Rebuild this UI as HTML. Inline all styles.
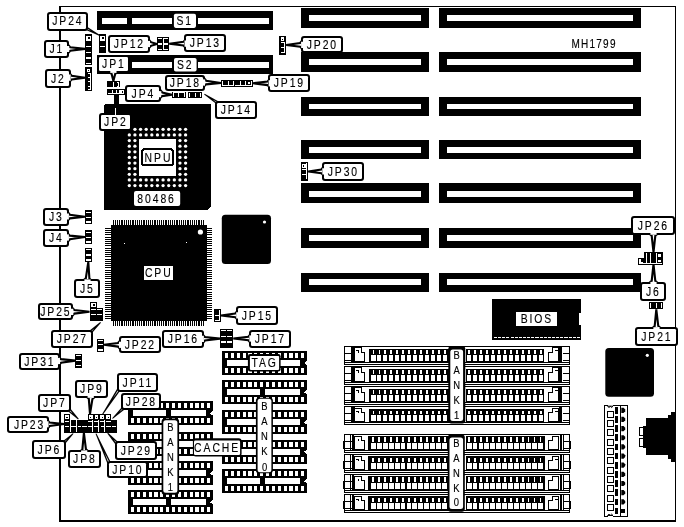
<!DOCTYPE html>
<html><head><meta charset="utf-8"><title>MH1799</title>
<style>
html,body{margin:0;padding:0;background:#fff;}
body{width:684px;height:527px;overflow:hidden;}
svg{display:block;}
svg rect, svg polygon, svg line{shape-rendering:crispEdges;}
svg .aa{shape-rendering:auto;}
svg{filter:grayscale(1);}
svg text{font-family:"Liberation Sans",sans-serif;}
</style></head><body>
<svg width="684" height="527" viewBox="0 0 684 527">
<rect x="0" y="0" width="684" height="527" fill="#fff"/>
<rect x="59.00" y="6.00" width="617.00" height="1.00" fill="#000" />
<rect x="59.00" y="6.00" width="2.00" height="515.50" fill="#000" />
<rect x="675.00" y="6.00" width="1.00" height="515.50" fill="#000" />
<rect x="59.00" y="519.70" width="617.00" height="1.80" fill="#000" />
<rect x="301.00" y="8.00" width="128.00" height="19.80" fill="#000" />
<rect x="308.80" y="15.00" width="112.20" height="6.00" fill="#fff" />
<rect x="439.20" y="8.00" width="201.80" height="19.80" fill="#000" />
<rect x="447.00" y="15.00" width="186.00" height="6.00" fill="#fff" />
<rect x="301.00" y="52.00" width="128.00" height="19.80" fill="#000" />
<rect x="308.80" y="59.00" width="112.20" height="6.00" fill="#fff" />
<rect x="439.20" y="52.00" width="201.80" height="19.80" fill="#000" />
<rect x="447.00" y="59.00" width="186.00" height="6.00" fill="#fff" />
<rect x="301.00" y="96.80" width="128.00" height="18.90" fill="#000" />
<rect x="308.80" y="104.00" width="112.20" height="5.40" fill="#fff" />
<rect x="439.20" y="96.80" width="201.80" height="18.90" fill="#000" />
<rect x="447.00" y="104.00" width="186.00" height="5.40" fill="#fff" />
<rect x="301.00" y="139.60" width="128.00" height="19.80" fill="#000" />
<rect x="308.80" y="146.80" width="112.20" height="6.20" fill="#fff" />
<rect x="439.20" y="139.60" width="201.80" height="19.80" fill="#000" />
<rect x="447.00" y="146.80" width="186.00" height="6.20" fill="#fff" />
<rect x="301.00" y="183.40" width="128.00" height="19.60" fill="#000" />
<rect x="308.80" y="190.60" width="112.20" height="6.00" fill="#fff" />
<rect x="439.20" y="183.40" width="201.80" height="19.60" fill="#000" />
<rect x="447.00" y="190.60" width="186.00" height="6.00" fill="#fff" />
<rect x="301.00" y="227.70" width="128.00" height="19.80" fill="#000" />
<rect x="308.80" y="234.50" width="112.20" height="6.50" fill="#fff" />
<rect x="439.20" y="227.70" width="201.80" height="19.80" fill="#000" />
<rect x="447.00" y="234.50" width="186.00" height="6.50" fill="#fff" />
<rect x="301.00" y="272.80" width="128.00" height="19.00" fill="#000" />
<rect x="308.80" y="279.00" width="112.20" height="6.00" fill="#fff" />
<rect x="439.20" y="272.80" width="201.80" height="19.00" fill="#000" />
<rect x="447.00" y="279.00" width="186.00" height="6.00" fill="#fff" />
<rect x="97.20" y="10.80" width="175.60" height="19.10" fill="#000" />
<rect x="101.80" y="17.90" width="25.20" height="6.00" fill="#fff" />
<rect x="132.00" y="17.90" width="136.50" height="6.00" fill="#fff" />
<rect x="172.10" y="16.90" width="25.60" height="8.00" fill="#000" />
<rect x="97.20" y="55.30" width="175.60" height="18.30" fill="#000" />
<rect x="101.80" y="62.00" width="25.20" height="6.20" fill="#fff" />
<rect x="132.00" y="62.00" width="136.50" height="6.20" fill="#fff" />
<rect x="172.10" y="61.00" width="25.60" height="8.20" fill="#000" />
<polygon points="104.00,106.00 106.30,103.70 211.00,103.70 211.00,206.30 207.70,209.60 104.00,209.60" fill="#000" stroke="none" stroke-width="0" stroke-linejoin="miter" />
<circle cx="134.93" cy="129.30" r="1.65" fill="#fff"/>
<circle cx="140.56" cy="129.30" r="1.65" fill="#fff"/>
<circle cx="146.19" cy="129.30" r="1.65" fill="#fff"/>
<circle cx="151.82" cy="129.30" r="1.65" fill="#fff"/>
<circle cx="157.45" cy="129.30" r="1.65" fill="#fff"/>
<circle cx="163.08" cy="129.30" r="1.65" fill="#fff"/>
<circle cx="168.71" cy="129.30" r="1.65" fill="#fff"/>
<circle cx="174.34" cy="129.30" r="1.65" fill="#fff"/>
<circle cx="179.97" cy="129.30" r="1.65" fill="#fff"/>
<circle cx="185.60" cy="129.30" r="1.65" fill="#fff"/>
<circle cx="129.30" cy="134.93" r="1.65" fill="#fff"/>
<circle cx="134.93" cy="134.93" r="1.65" fill="#fff"/>
<circle cx="140.56" cy="134.93" r="1.65" fill="#fff"/>
<circle cx="146.19" cy="134.93" r="1.65" fill="#fff"/>
<circle cx="151.82" cy="134.93" r="1.65" fill="#fff"/>
<circle cx="157.45" cy="134.93" r="1.65" fill="#fff"/>
<circle cx="163.08" cy="134.93" r="1.65" fill="#fff"/>
<circle cx="168.71" cy="134.93" r="1.65" fill="#fff"/>
<circle cx="174.34" cy="134.93" r="1.65" fill="#fff"/>
<circle cx="179.97" cy="134.93" r="1.65" fill="#fff"/>
<circle cx="185.60" cy="134.93" r="1.65" fill="#fff"/>
<circle cx="129.30" cy="140.56" r="1.65" fill="#fff"/>
<circle cx="134.93" cy="140.56" r="1.65" fill="#fff"/>
<circle cx="179.97" cy="140.56" r="1.65" fill="#fff"/>
<circle cx="185.60" cy="140.56" r="1.65" fill="#fff"/>
<circle cx="129.30" cy="146.19" r="1.65" fill="#fff"/>
<circle cx="134.93" cy="146.19" r="1.65" fill="#fff"/>
<circle cx="179.97" cy="146.19" r="1.65" fill="#fff"/>
<circle cx="185.60" cy="146.19" r="1.65" fill="#fff"/>
<circle cx="129.30" cy="151.82" r="1.65" fill="#fff"/>
<circle cx="134.93" cy="151.82" r="1.65" fill="#fff"/>
<circle cx="179.97" cy="151.82" r="1.65" fill="#fff"/>
<circle cx="185.60" cy="151.82" r="1.65" fill="#fff"/>
<circle cx="129.30" cy="157.45" r="1.65" fill="#fff"/>
<circle cx="134.93" cy="157.45" r="1.65" fill="#fff"/>
<circle cx="179.97" cy="157.45" r="1.65" fill="#fff"/>
<circle cx="185.60" cy="157.45" r="1.65" fill="#fff"/>
<circle cx="129.30" cy="163.08" r="1.65" fill="#fff"/>
<circle cx="134.93" cy="163.08" r="1.65" fill="#fff"/>
<circle cx="179.97" cy="163.08" r="1.65" fill="#fff"/>
<circle cx="185.60" cy="163.08" r="1.65" fill="#fff"/>
<circle cx="129.30" cy="168.71" r="1.65" fill="#fff"/>
<circle cx="134.93" cy="168.71" r="1.65" fill="#fff"/>
<circle cx="179.97" cy="168.71" r="1.65" fill="#fff"/>
<circle cx="185.60" cy="168.71" r="1.65" fill="#fff"/>
<circle cx="129.30" cy="174.34" r="1.65" fill="#fff"/>
<circle cx="134.93" cy="174.34" r="1.65" fill="#fff"/>
<circle cx="179.97" cy="174.34" r="1.65" fill="#fff"/>
<circle cx="185.60" cy="174.34" r="1.65" fill="#fff"/>
<circle cx="129.30" cy="179.97" r="1.65" fill="#fff"/>
<circle cx="134.93" cy="179.97" r="1.65" fill="#fff"/>
<circle cx="140.56" cy="179.97" r="1.65" fill="#fff"/>
<circle cx="146.19" cy="179.97" r="1.65" fill="#fff"/>
<circle cx="151.82" cy="179.97" r="1.65" fill="#fff"/>
<circle cx="157.45" cy="179.97" r="1.65" fill="#fff"/>
<circle cx="163.08" cy="179.97" r="1.65" fill="#fff"/>
<circle cx="168.71" cy="179.97" r="1.65" fill="#fff"/>
<circle cx="174.34" cy="179.97" r="1.65" fill="#fff"/>
<circle cx="179.97" cy="179.97" r="1.65" fill="#fff"/>
<circle cx="185.60" cy="179.97" r="1.65" fill="#fff"/>
<circle cx="129.30" cy="185.60" r="1.65" fill="#fff"/>
<circle cx="134.93" cy="185.60" r="1.65" fill="#fff"/>
<circle cx="140.56" cy="185.60" r="1.65" fill="#fff"/>
<circle cx="146.19" cy="185.60" r="1.65" fill="#fff"/>
<circle cx="151.82" cy="185.60" r="1.65" fill="#fff"/>
<circle cx="157.45" cy="185.60" r="1.65" fill="#fff"/>
<circle cx="163.08" cy="185.60" r="1.65" fill="#fff"/>
<circle cx="168.71" cy="185.60" r="1.65" fill="#fff"/>
<circle cx="174.34" cy="185.60" r="1.65" fill="#fff"/>
<circle cx="179.97" cy="185.60" r="1.65" fill="#fff"/>
<circle cx="185.60" cy="185.60" r="1.65" fill="#fff"/>
<rect x="139.00" y="139.00" width="37.00" height="37.00" fill="#fff" />
<rect x="141" y="148" width="33" height="18.4" rx="4" fill="#000"/>
<rect x="143" y="150" width="29" height="14.4" rx="2.5" fill="#fff"/>
<text transform="translate(158.46,161.90) scale(0.77,1)" font-size="13.5" letter-spacing="2.5" text-anchor="middle" fill="#000" stroke="#000" stroke-width="0.15">NPU</text>
<rect x="134" y="191" width="46.2" height="15" rx="2" fill="#fff" class="aa"/>
<text transform="translate(156.56,202.90) scale(0.77,1)" font-size="13.5" letter-spacing="2.5" text-anchor="middle" fill="#000" stroke="#000" stroke-width="0.15">80486</text>
<rect x="112.60" y="220.10" width="1.10" height="105.70" fill="#000" />
<rect x="114.80" y="220.10" width="1.10" height="105.70" fill="#000" />
<rect x="117.00" y="220.10" width="1.10" height="105.70" fill="#000" />
<rect x="119.20" y="220.10" width="1.10" height="105.70" fill="#000" />
<rect x="121.40" y="220.10" width="1.10" height="105.70" fill="#000" />
<rect x="123.60" y="220.10" width="1.10" height="105.70" fill="#000" />
<rect x="125.80" y="220.10" width="1.10" height="105.70" fill="#000" />
<rect x="128.00" y="220.10" width="1.10" height="105.70" fill="#000" />
<rect x="130.20" y="220.10" width="1.10" height="105.70" fill="#000" />
<rect x="132.40" y="220.10" width="1.10" height="105.70" fill="#000" />
<rect x="134.60" y="220.10" width="1.10" height="105.70" fill="#000" />
<rect x="136.80" y="220.10" width="1.10" height="105.70" fill="#000" />
<rect x="139.00" y="220.10" width="1.10" height="105.70" fill="#000" />
<rect x="141.20" y="220.10" width="1.10" height="105.70" fill="#000" />
<rect x="143.40" y="220.10" width="1.10" height="105.70" fill="#000" />
<rect x="145.60" y="220.10" width="1.10" height="105.70" fill="#000" />
<rect x="147.80" y="220.10" width="1.10" height="105.70" fill="#000" />
<rect x="150.00" y="220.10" width="1.10" height="105.70" fill="#000" />
<rect x="152.20" y="220.10" width="1.10" height="105.70" fill="#000" />
<rect x="154.40" y="220.10" width="1.10" height="105.70" fill="#000" />
<rect x="156.60" y="220.10" width="1.10" height="105.70" fill="#000" />
<rect x="158.80" y="220.10" width="1.10" height="105.70" fill="#000" />
<rect x="161.00" y="220.10" width="1.10" height="105.70" fill="#000" />
<rect x="163.20" y="220.10" width="1.10" height="105.70" fill="#000" />
<rect x="165.40" y="220.10" width="1.10" height="105.70" fill="#000" />
<rect x="167.60" y="220.10" width="1.10" height="105.70" fill="#000" />
<rect x="169.80" y="220.10" width="1.10" height="105.70" fill="#000" />
<rect x="172.00" y="220.10" width="1.10" height="105.70" fill="#000" />
<rect x="174.20" y="220.10" width="1.10" height="105.70" fill="#000" />
<rect x="176.40" y="220.10" width="1.10" height="105.70" fill="#000" />
<rect x="178.60" y="220.10" width="1.10" height="105.70" fill="#000" />
<rect x="180.80" y="220.10" width="1.10" height="105.70" fill="#000" />
<rect x="183.00" y="220.10" width="1.10" height="105.70" fill="#000" />
<rect x="185.20" y="220.10" width="1.10" height="105.70" fill="#000" />
<rect x="187.40" y="220.10" width="1.10" height="105.70" fill="#000" />
<rect x="189.60" y="220.10" width="1.10" height="105.70" fill="#000" />
<rect x="191.80" y="220.10" width="1.10" height="105.70" fill="#000" />
<rect x="194.00" y="220.10" width="1.10" height="105.70" fill="#000" />
<rect x="196.20" y="220.10" width="1.10" height="105.70" fill="#000" />
<rect x="198.40" y="220.10" width="1.10" height="105.70" fill="#000" />
<rect x="200.60" y="220.10" width="1.10" height="105.70" fill="#000" />
<rect x="202.80" y="220.10" width="1.10" height="105.70" fill="#000" />
<rect x="104.90" y="227.70" width="107.00" height="1.10" fill="#000" />
<rect x="104.90" y="229.90" width="107.00" height="1.10" fill="#000" />
<rect x="104.90" y="232.10" width="107.00" height="1.10" fill="#000" />
<rect x="104.90" y="234.30" width="107.00" height="1.10" fill="#000" />
<rect x="104.90" y="236.50" width="107.00" height="1.10" fill="#000" />
<rect x="104.90" y="238.70" width="107.00" height="1.10" fill="#000" />
<rect x="104.90" y="240.90" width="107.00" height="1.10" fill="#000" />
<rect x="104.90" y="243.10" width="107.00" height="1.10" fill="#000" />
<rect x="104.90" y="245.30" width="107.00" height="1.10" fill="#000" />
<rect x="104.90" y="247.50" width="107.00" height="1.10" fill="#000" />
<rect x="104.90" y="249.70" width="107.00" height="1.10" fill="#000" />
<rect x="104.90" y="251.90" width="107.00" height="1.10" fill="#000" />
<rect x="104.90" y="254.10" width="107.00" height="1.10" fill="#000" />
<rect x="104.90" y="256.30" width="107.00" height="1.10" fill="#000" />
<rect x="104.90" y="258.50" width="107.00" height="1.10" fill="#000" />
<rect x="104.90" y="260.70" width="107.00" height="1.10" fill="#000" />
<rect x="104.90" y="262.90" width="107.00" height="1.10" fill="#000" />
<rect x="104.90" y="265.10" width="107.00" height="1.10" fill="#000" />
<rect x="104.90" y="267.30" width="107.00" height="1.10" fill="#000" />
<rect x="104.90" y="269.50" width="107.00" height="1.10" fill="#000" />
<rect x="104.90" y="271.70" width="107.00" height="1.10" fill="#000" />
<rect x="104.90" y="273.90" width="107.00" height="1.10" fill="#000" />
<rect x="104.90" y="276.10" width="107.00" height="1.10" fill="#000" />
<rect x="104.90" y="278.30" width="107.00" height="1.10" fill="#000" />
<rect x="104.90" y="280.50" width="107.00" height="1.10" fill="#000" />
<rect x="104.90" y="282.70" width="107.00" height="1.10" fill="#000" />
<rect x="104.90" y="284.90" width="107.00" height="1.10" fill="#000" />
<rect x="104.90" y="287.10" width="107.00" height="1.10" fill="#000" />
<rect x="104.90" y="289.30" width="107.00" height="1.10" fill="#000" />
<rect x="104.90" y="291.50" width="107.00" height="1.10" fill="#000" />
<rect x="104.90" y="293.70" width="107.00" height="1.10" fill="#000" />
<rect x="104.90" y="295.90" width="107.00" height="1.10" fill="#000" />
<rect x="104.90" y="298.10" width="107.00" height="1.10" fill="#000" />
<rect x="104.90" y="300.30" width="107.00" height="1.10" fill="#000" />
<rect x="104.90" y="302.50" width="107.00" height="1.10" fill="#000" />
<rect x="104.90" y="304.70" width="107.00" height="1.10" fill="#000" />
<rect x="104.90" y="306.90" width="107.00" height="1.10" fill="#000" />
<rect x="104.90" y="309.10" width="107.00" height="1.10" fill="#000" />
<rect x="104.90" y="311.30" width="107.00" height="1.10" fill="#000" />
<rect x="104.90" y="313.50" width="107.00" height="1.10" fill="#000" />
<rect x="104.90" y="315.70" width="107.00" height="1.10" fill="#000" />
<rect x="104.90" y="317.90" width="107.00" height="1.10" fill="#000" />
<rect x="110.90" y="224.90" width="96.10" height="96.10" fill="#000" />
<circle cx="200.4" cy="232" r="2.6" fill="#fff"/>
<rect x="123.50" y="242.50" width="1.00" height="1.00" fill="#fff" />
<rect x="185.50" y="242.00" width="1.20" height="1.00" fill="#fff" />
<rect x="143.90" y="266.00" width="29.10" height="13.90" fill="#fff" />
<text transform="translate(158.76,276.70) scale(0.77,1)" font-size="13.5" letter-spacing="2.5" text-anchor="middle" fill="#000" stroke="#000" stroke-width="0.15">CPU</text>
<rect x="221.8" y="214.8" width="49.2" height="49.2" rx="3.5" fill="#000" class="aa"/>
<circle cx="264.5" cy="222" r="1.6" fill="#fff"/>
<rect x="605.3" y="347.9" width="48.7" height="48.8" rx="3.5" fill="#000" class="aa"/>
<circle cx="647.3" cy="355.3" r="1.6" fill="#fff"/>
<rect x="491.90" y="298.90" width="89.10" height="41.00" fill="#000" />
<rect x="579.00" y="313.20" width="2.00" height="11.40" fill="#fff" />
<rect x="493.90" y="336.90" width="3.10" height="1.10" fill="#fff" />
<rect x="498.05" y="336.90" width="3.10" height="1.10" fill="#fff" />
<rect x="502.20" y="336.90" width="3.10" height="1.10" fill="#fff" />
<rect x="506.35" y="336.90" width="3.10" height="1.10" fill="#fff" />
<rect x="510.50" y="336.90" width="3.10" height="1.10" fill="#fff" />
<rect x="514.65" y="336.90" width="3.10" height="1.10" fill="#fff" />
<rect x="518.80" y="336.90" width="3.10" height="1.10" fill="#fff" />
<rect x="522.95" y="336.90" width="3.10" height="1.10" fill="#fff" />
<rect x="527.10" y="336.90" width="3.10" height="1.10" fill="#fff" />
<rect x="531.25" y="336.90" width="3.10" height="1.10" fill="#fff" />
<rect x="535.40" y="336.90" width="3.10" height="1.10" fill="#fff" />
<rect x="539.55" y="336.90" width="3.10" height="1.10" fill="#fff" />
<rect x="543.70" y="336.90" width="3.10" height="1.10" fill="#fff" />
<rect x="547.85" y="336.90" width="3.10" height="1.10" fill="#fff" />
<rect x="552.00" y="336.90" width="3.10" height="1.10" fill="#fff" />
<rect x="556.15" y="336.90" width="3.10" height="1.10" fill="#fff" />
<rect x="560.30" y="336.90" width="3.10" height="1.10" fill="#fff" />
<rect x="564.45" y="336.90" width="3.10" height="1.10" fill="#fff" />
<rect x="568.60" y="336.90" width="3.10" height="1.10" fill="#fff" />
<rect x="572.75" y="336.90" width="3.10" height="1.10" fill="#fff" />
<rect x="576.90" y="336.90" width="3.10" height="1.10" fill="#fff" />
<rect x="515.90" y="311.80" width="41.20" height="14.10" fill="#fff" />
<text transform="translate(536.96,323.40) scale(0.77,1)" font-size="13.5" letter-spacing="2.5" text-anchor="middle" fill="#000" stroke="#000" stroke-width="0.15">BIOS</text>
<rect x="222.00" y="351.00" width="85.00" height="23.70" fill="#000" />
<rect x="225.00" y="353.00" width="3.20" height="5.00" fill="#fff" />
<rect x="225.00" y="368.00" width="3.20" height="5.00" fill="#fff" />
<rect x="230.85" y="353.00" width="3.20" height="5.00" fill="#fff" />
<rect x="230.85" y="368.00" width="3.20" height="5.00" fill="#fff" />
<rect x="236.70" y="353.00" width="3.20" height="5.00" fill="#fff" />
<rect x="236.70" y="368.00" width="3.20" height="5.00" fill="#fff" />
<rect x="242.55" y="353.00" width="3.20" height="5.00" fill="#fff" />
<rect x="242.55" y="368.00" width="3.20" height="5.00" fill="#fff" />
<rect x="248.40" y="353.00" width="3.20" height="5.00" fill="#fff" />
<rect x="248.40" y="368.00" width="3.20" height="5.00" fill="#fff" />
<rect x="254.25" y="353.00" width="3.20" height="5.00" fill="#fff" />
<rect x="254.25" y="368.00" width="3.20" height="5.00" fill="#fff" />
<rect x="260.10" y="353.00" width="3.20" height="5.00" fill="#fff" />
<rect x="260.10" y="368.00" width="3.20" height="5.00" fill="#fff" />
<rect x="265.95" y="353.00" width="3.20" height="5.00" fill="#fff" />
<rect x="265.95" y="368.00" width="3.20" height="5.00" fill="#fff" />
<rect x="271.80" y="353.00" width="3.20" height="5.00" fill="#fff" />
<rect x="271.80" y="368.00" width="3.20" height="5.00" fill="#fff" />
<rect x="277.65" y="353.00" width="3.20" height="5.00" fill="#fff" />
<rect x="277.65" y="368.00" width="3.20" height="5.00" fill="#fff" />
<rect x="283.50" y="353.00" width="3.20" height="5.00" fill="#fff" />
<rect x="283.50" y="368.00" width="3.20" height="5.00" fill="#fff" />
<rect x="289.35" y="353.00" width="3.20" height="5.00" fill="#fff" />
<rect x="289.35" y="368.00" width="3.20" height="5.00" fill="#fff" />
<rect x="295.20" y="353.00" width="3.20" height="5.00" fill="#fff" />
<rect x="295.20" y="368.00" width="3.20" height="5.00" fill="#fff" />
<rect x="301.05" y="353.00" width="3.20" height="5.00" fill="#fff" />
<rect x="301.05" y="368.00" width="3.20" height="5.00" fill="#fff" />
<rect x="226.70" y="360.00" width="33.60" height="6.00" fill="#fff" />
<rect x="264.70" y="360.00" width="34.80" height="6.00" fill="#fff" />
<polygon points="307.00,360.50 304.00,363.00 307.00,365.50" fill="#fff" stroke="none" stroke-width="0" stroke-linejoin="miter" />
<rect x="222.00" y="380.20" width="85.00" height="23.70" fill="#000" />
<rect x="225.00" y="382.20" width="3.20" height="5.00" fill="#fff" />
<rect x="225.00" y="397.20" width="3.20" height="5.00" fill="#fff" />
<rect x="230.85" y="382.20" width="3.20" height="5.00" fill="#fff" />
<rect x="230.85" y="397.20" width="3.20" height="5.00" fill="#fff" />
<rect x="236.70" y="382.20" width="3.20" height="5.00" fill="#fff" />
<rect x="236.70" y="397.20" width="3.20" height="5.00" fill="#fff" />
<rect x="242.55" y="382.20" width="3.20" height="5.00" fill="#fff" />
<rect x="242.55" y="397.20" width="3.20" height="5.00" fill="#fff" />
<rect x="248.40" y="382.20" width="3.20" height="5.00" fill="#fff" />
<rect x="248.40" y="397.20" width="3.20" height="5.00" fill="#fff" />
<rect x="254.25" y="382.20" width="3.20" height="5.00" fill="#fff" />
<rect x="254.25" y="397.20" width="3.20" height="5.00" fill="#fff" />
<rect x="260.10" y="382.20" width="3.20" height="5.00" fill="#fff" />
<rect x="260.10" y="397.20" width="3.20" height="5.00" fill="#fff" />
<rect x="265.95" y="382.20" width="3.20" height="5.00" fill="#fff" />
<rect x="265.95" y="397.20" width="3.20" height="5.00" fill="#fff" />
<rect x="271.80" y="382.20" width="3.20" height="5.00" fill="#fff" />
<rect x="271.80" y="397.20" width="3.20" height="5.00" fill="#fff" />
<rect x="277.65" y="382.20" width="3.20" height="5.00" fill="#fff" />
<rect x="277.65" y="397.20" width="3.20" height="5.00" fill="#fff" />
<rect x="283.50" y="382.20" width="3.20" height="5.00" fill="#fff" />
<rect x="283.50" y="397.20" width="3.20" height="5.00" fill="#fff" />
<rect x="289.35" y="382.20" width="3.20" height="5.00" fill="#fff" />
<rect x="289.35" y="397.20" width="3.20" height="5.00" fill="#fff" />
<rect x="295.20" y="382.20" width="3.20" height="5.00" fill="#fff" />
<rect x="295.20" y="397.20" width="3.20" height="5.00" fill="#fff" />
<rect x="301.05" y="382.20" width="3.20" height="5.00" fill="#fff" />
<rect x="301.05" y="397.20" width="3.20" height="5.00" fill="#fff" />
<rect x="226.70" y="389.20" width="33.60" height="6.00" fill="#fff" />
<rect x="264.70" y="389.20" width="34.80" height="6.00" fill="#fff" />
<polygon points="307.00,389.70 304.00,392.20 307.00,394.70" fill="#fff" stroke="none" stroke-width="0" stroke-linejoin="miter" />
<rect x="222.00" y="410.30" width="85.00" height="23.70" fill="#000" />
<rect x="225.00" y="412.30" width="3.20" height="5.00" fill="#fff" />
<rect x="225.00" y="427.30" width="3.20" height="5.00" fill="#fff" />
<rect x="230.85" y="412.30" width="3.20" height="5.00" fill="#fff" />
<rect x="230.85" y="427.30" width="3.20" height="5.00" fill="#fff" />
<rect x="236.70" y="412.30" width="3.20" height="5.00" fill="#fff" />
<rect x="236.70" y="427.30" width="3.20" height="5.00" fill="#fff" />
<rect x="242.55" y="412.30" width="3.20" height="5.00" fill="#fff" />
<rect x="242.55" y="427.30" width="3.20" height="5.00" fill="#fff" />
<rect x="248.40" y="412.30" width="3.20" height="5.00" fill="#fff" />
<rect x="248.40" y="427.30" width="3.20" height="5.00" fill="#fff" />
<rect x="254.25" y="412.30" width="3.20" height="5.00" fill="#fff" />
<rect x="254.25" y="427.30" width="3.20" height="5.00" fill="#fff" />
<rect x="260.10" y="412.30" width="3.20" height="5.00" fill="#fff" />
<rect x="260.10" y="427.30" width="3.20" height="5.00" fill="#fff" />
<rect x="265.95" y="412.30" width="3.20" height="5.00" fill="#fff" />
<rect x="265.95" y="427.30" width="3.20" height="5.00" fill="#fff" />
<rect x="271.80" y="412.30" width="3.20" height="5.00" fill="#fff" />
<rect x="271.80" y="427.30" width="3.20" height="5.00" fill="#fff" />
<rect x="277.65" y="412.30" width="3.20" height="5.00" fill="#fff" />
<rect x="277.65" y="427.30" width="3.20" height="5.00" fill="#fff" />
<rect x="283.50" y="412.30" width="3.20" height="5.00" fill="#fff" />
<rect x="283.50" y="427.30" width="3.20" height="5.00" fill="#fff" />
<rect x="289.35" y="412.30" width="3.20" height="5.00" fill="#fff" />
<rect x="289.35" y="427.30" width="3.20" height="5.00" fill="#fff" />
<rect x="295.20" y="412.30" width="3.20" height="5.00" fill="#fff" />
<rect x="295.20" y="427.30" width="3.20" height="5.00" fill="#fff" />
<rect x="301.05" y="412.30" width="3.20" height="5.00" fill="#fff" />
<rect x="301.05" y="427.30" width="3.20" height="5.00" fill="#fff" />
<rect x="226.70" y="419.30" width="33.60" height="6.00" fill="#fff" />
<rect x="264.70" y="419.30" width="34.80" height="6.00" fill="#fff" />
<polygon points="307.00,419.80 304.00,422.30 307.00,424.80" fill="#fff" stroke="none" stroke-width="0" stroke-linejoin="miter" />
<rect x="222.00" y="439.80" width="85.00" height="23.70" fill="#000" />
<rect x="225.00" y="441.80" width="3.20" height="5.00" fill="#fff" />
<rect x="225.00" y="456.80" width="3.20" height="5.00" fill="#fff" />
<rect x="230.85" y="441.80" width="3.20" height="5.00" fill="#fff" />
<rect x="230.85" y="456.80" width="3.20" height="5.00" fill="#fff" />
<rect x="236.70" y="441.80" width="3.20" height="5.00" fill="#fff" />
<rect x="236.70" y="456.80" width="3.20" height="5.00" fill="#fff" />
<rect x="242.55" y="441.80" width="3.20" height="5.00" fill="#fff" />
<rect x="242.55" y="456.80" width="3.20" height="5.00" fill="#fff" />
<rect x="248.40" y="441.80" width="3.20" height="5.00" fill="#fff" />
<rect x="248.40" y="456.80" width="3.20" height="5.00" fill="#fff" />
<rect x="254.25" y="441.80" width="3.20" height="5.00" fill="#fff" />
<rect x="254.25" y="456.80" width="3.20" height="5.00" fill="#fff" />
<rect x="260.10" y="441.80" width="3.20" height="5.00" fill="#fff" />
<rect x="260.10" y="456.80" width="3.20" height="5.00" fill="#fff" />
<rect x="265.95" y="441.80" width="3.20" height="5.00" fill="#fff" />
<rect x="265.95" y="456.80" width="3.20" height="5.00" fill="#fff" />
<rect x="271.80" y="441.80" width="3.20" height="5.00" fill="#fff" />
<rect x="271.80" y="456.80" width="3.20" height="5.00" fill="#fff" />
<rect x="277.65" y="441.80" width="3.20" height="5.00" fill="#fff" />
<rect x="277.65" y="456.80" width="3.20" height="5.00" fill="#fff" />
<rect x="283.50" y="441.80" width="3.20" height="5.00" fill="#fff" />
<rect x="283.50" y="456.80" width="3.20" height="5.00" fill="#fff" />
<rect x="289.35" y="441.80" width="3.20" height="5.00" fill="#fff" />
<rect x="289.35" y="456.80" width="3.20" height="5.00" fill="#fff" />
<rect x="295.20" y="441.80" width="3.20" height="5.00" fill="#fff" />
<rect x="295.20" y="456.80" width="3.20" height="5.00" fill="#fff" />
<rect x="301.05" y="441.80" width="3.20" height="5.00" fill="#fff" />
<rect x="301.05" y="456.80" width="3.20" height="5.00" fill="#fff" />
<rect x="226.70" y="448.80" width="33.60" height="6.00" fill="#fff" />
<rect x="264.70" y="448.80" width="34.80" height="6.00" fill="#fff" />
<polygon points="307.00,449.30 304.00,451.80 307.00,454.30" fill="#fff" stroke="none" stroke-width="0" stroke-linejoin="miter" />
<rect x="222.00" y="469.10" width="85.00" height="23.70" fill="#000" />
<rect x="225.00" y="471.10" width="3.20" height="5.00" fill="#fff" />
<rect x="225.00" y="486.10" width="3.20" height="5.00" fill="#fff" />
<rect x="230.85" y="471.10" width="3.20" height="5.00" fill="#fff" />
<rect x="230.85" y="486.10" width="3.20" height="5.00" fill="#fff" />
<rect x="236.70" y="471.10" width="3.20" height="5.00" fill="#fff" />
<rect x="236.70" y="486.10" width="3.20" height="5.00" fill="#fff" />
<rect x="242.55" y="471.10" width="3.20" height="5.00" fill="#fff" />
<rect x="242.55" y="486.10" width="3.20" height="5.00" fill="#fff" />
<rect x="248.40" y="471.10" width="3.20" height="5.00" fill="#fff" />
<rect x="248.40" y="486.10" width="3.20" height="5.00" fill="#fff" />
<rect x="254.25" y="471.10" width="3.20" height="5.00" fill="#fff" />
<rect x="254.25" y="486.10" width="3.20" height="5.00" fill="#fff" />
<rect x="260.10" y="471.10" width="3.20" height="5.00" fill="#fff" />
<rect x="260.10" y="486.10" width="3.20" height="5.00" fill="#fff" />
<rect x="265.95" y="471.10" width="3.20" height="5.00" fill="#fff" />
<rect x="265.95" y="486.10" width="3.20" height="5.00" fill="#fff" />
<rect x="271.80" y="471.10" width="3.20" height="5.00" fill="#fff" />
<rect x="271.80" y="486.10" width="3.20" height="5.00" fill="#fff" />
<rect x="277.65" y="471.10" width="3.20" height="5.00" fill="#fff" />
<rect x="277.65" y="486.10" width="3.20" height="5.00" fill="#fff" />
<rect x="283.50" y="471.10" width="3.20" height="5.00" fill="#fff" />
<rect x="283.50" y="486.10" width="3.20" height="5.00" fill="#fff" />
<rect x="289.35" y="471.10" width="3.20" height="5.00" fill="#fff" />
<rect x="289.35" y="486.10" width="3.20" height="5.00" fill="#fff" />
<rect x="295.20" y="471.10" width="3.20" height="5.00" fill="#fff" />
<rect x="295.20" y="486.10" width="3.20" height="5.00" fill="#fff" />
<rect x="301.05" y="471.10" width="3.20" height="5.00" fill="#fff" />
<rect x="301.05" y="486.10" width="3.20" height="5.00" fill="#fff" />
<rect x="226.70" y="478.10" width="33.60" height="6.00" fill="#fff" />
<rect x="264.70" y="478.10" width="34.80" height="6.00" fill="#fff" />
<polygon points="307.00,478.60 304.00,481.10 307.00,483.60" fill="#fff" stroke="none" stroke-width="0" stroke-linejoin="miter" />
<rect x="128.00" y="401.40" width="85.00" height="23.70" fill="#000" />
<rect x="131.00" y="403.40" width="3.20" height="5.00" fill="#fff" />
<rect x="131.00" y="418.40" width="3.20" height="5.00" fill="#fff" />
<rect x="136.85" y="403.40" width="3.20" height="5.00" fill="#fff" />
<rect x="136.85" y="418.40" width="3.20" height="5.00" fill="#fff" />
<rect x="142.70" y="403.40" width="3.20" height="5.00" fill="#fff" />
<rect x="142.70" y="418.40" width="3.20" height="5.00" fill="#fff" />
<rect x="148.55" y="403.40" width="3.20" height="5.00" fill="#fff" />
<rect x="148.55" y="418.40" width="3.20" height="5.00" fill="#fff" />
<rect x="154.40" y="403.40" width="3.20" height="5.00" fill="#fff" />
<rect x="154.40" y="418.40" width="3.20" height="5.00" fill="#fff" />
<rect x="160.25" y="403.40" width="3.20" height="5.00" fill="#fff" />
<rect x="160.25" y="418.40" width="3.20" height="5.00" fill="#fff" />
<rect x="166.10" y="403.40" width="3.20" height="5.00" fill="#fff" />
<rect x="166.10" y="418.40" width="3.20" height="5.00" fill="#fff" />
<rect x="171.95" y="403.40" width="3.20" height="5.00" fill="#fff" />
<rect x="171.95" y="418.40" width="3.20" height="5.00" fill="#fff" />
<rect x="177.80" y="403.40" width="3.20" height="5.00" fill="#fff" />
<rect x="177.80" y="418.40" width="3.20" height="5.00" fill="#fff" />
<rect x="183.65" y="403.40" width="3.20" height="5.00" fill="#fff" />
<rect x="183.65" y="418.40" width="3.20" height="5.00" fill="#fff" />
<rect x="189.50" y="403.40" width="3.20" height="5.00" fill="#fff" />
<rect x="189.50" y="418.40" width="3.20" height="5.00" fill="#fff" />
<rect x="195.35" y="403.40" width="3.20" height="5.00" fill="#fff" />
<rect x="195.35" y="418.40" width="3.20" height="5.00" fill="#fff" />
<rect x="201.20" y="403.40" width="3.20" height="5.00" fill="#fff" />
<rect x="201.20" y="418.40" width="3.20" height="5.00" fill="#fff" />
<rect x="207.05" y="403.40" width="3.20" height="5.00" fill="#fff" />
<rect x="207.05" y="418.40" width="3.20" height="5.00" fill="#fff" />
<rect x="132.70" y="410.40" width="33.60" height="6.00" fill="#fff" />
<rect x="170.70" y="410.40" width="34.80" height="6.00" fill="#fff" />
<polygon points="213.00,410.90 210.00,413.40 213.00,415.90" fill="#fff" stroke="none" stroke-width="0" stroke-linejoin="miter" />
<rect x="128.00" y="431.80" width="85.00" height="23.70" fill="#000" />
<rect x="131.00" y="433.80" width="3.20" height="5.00" fill="#fff" />
<rect x="131.00" y="448.80" width="3.20" height="5.00" fill="#fff" />
<rect x="136.85" y="433.80" width="3.20" height="5.00" fill="#fff" />
<rect x="136.85" y="448.80" width="3.20" height="5.00" fill="#fff" />
<rect x="142.70" y="433.80" width="3.20" height="5.00" fill="#fff" />
<rect x="142.70" y="448.80" width="3.20" height="5.00" fill="#fff" />
<rect x="148.55" y="433.80" width="3.20" height="5.00" fill="#fff" />
<rect x="148.55" y="448.80" width="3.20" height="5.00" fill="#fff" />
<rect x="154.40" y="433.80" width="3.20" height="5.00" fill="#fff" />
<rect x="154.40" y="448.80" width="3.20" height="5.00" fill="#fff" />
<rect x="160.25" y="433.80" width="3.20" height="5.00" fill="#fff" />
<rect x="160.25" y="448.80" width="3.20" height="5.00" fill="#fff" />
<rect x="166.10" y="433.80" width="3.20" height="5.00" fill="#fff" />
<rect x="166.10" y="448.80" width="3.20" height="5.00" fill="#fff" />
<rect x="171.95" y="433.80" width="3.20" height="5.00" fill="#fff" />
<rect x="171.95" y="448.80" width="3.20" height="5.00" fill="#fff" />
<rect x="177.80" y="433.80" width="3.20" height="5.00" fill="#fff" />
<rect x="177.80" y="448.80" width="3.20" height="5.00" fill="#fff" />
<rect x="183.65" y="433.80" width="3.20" height="5.00" fill="#fff" />
<rect x="183.65" y="448.80" width="3.20" height="5.00" fill="#fff" />
<rect x="189.50" y="433.80" width="3.20" height="5.00" fill="#fff" />
<rect x="189.50" y="448.80" width="3.20" height="5.00" fill="#fff" />
<rect x="195.35" y="433.80" width="3.20" height="5.00" fill="#fff" />
<rect x="195.35" y="448.80" width="3.20" height="5.00" fill="#fff" />
<rect x="201.20" y="433.80" width="3.20" height="5.00" fill="#fff" />
<rect x="201.20" y="448.80" width="3.20" height="5.00" fill="#fff" />
<rect x="207.05" y="433.80" width="3.20" height="5.00" fill="#fff" />
<rect x="207.05" y="448.80" width="3.20" height="5.00" fill="#fff" />
<rect x="132.70" y="440.80" width="33.60" height="6.00" fill="#fff" />
<rect x="170.70" y="440.80" width="34.80" height="6.00" fill="#fff" />
<polygon points="213.00,441.30 210.00,443.80 213.00,446.30" fill="#fff" stroke="none" stroke-width="0" stroke-linejoin="miter" />
<rect x="128.00" y="461.30" width="85.00" height="23.70" fill="#000" />
<rect x="131.00" y="463.30" width="3.20" height="5.00" fill="#fff" />
<rect x="131.00" y="478.30" width="3.20" height="5.00" fill="#fff" />
<rect x="136.85" y="463.30" width="3.20" height="5.00" fill="#fff" />
<rect x="136.85" y="478.30" width="3.20" height="5.00" fill="#fff" />
<rect x="142.70" y="463.30" width="3.20" height="5.00" fill="#fff" />
<rect x="142.70" y="478.30" width="3.20" height="5.00" fill="#fff" />
<rect x="148.55" y="463.30" width="3.20" height="5.00" fill="#fff" />
<rect x="148.55" y="478.30" width="3.20" height="5.00" fill="#fff" />
<rect x="154.40" y="463.30" width="3.20" height="5.00" fill="#fff" />
<rect x="154.40" y="478.30" width="3.20" height="5.00" fill="#fff" />
<rect x="160.25" y="463.30" width="3.20" height="5.00" fill="#fff" />
<rect x="160.25" y="478.30" width="3.20" height="5.00" fill="#fff" />
<rect x="166.10" y="463.30" width="3.20" height="5.00" fill="#fff" />
<rect x="166.10" y="478.30" width="3.20" height="5.00" fill="#fff" />
<rect x="171.95" y="463.30" width="3.20" height="5.00" fill="#fff" />
<rect x="171.95" y="478.30" width="3.20" height="5.00" fill="#fff" />
<rect x="177.80" y="463.30" width="3.20" height="5.00" fill="#fff" />
<rect x="177.80" y="478.30" width="3.20" height="5.00" fill="#fff" />
<rect x="183.65" y="463.30" width="3.20" height="5.00" fill="#fff" />
<rect x="183.65" y="478.30" width="3.20" height="5.00" fill="#fff" />
<rect x="189.50" y="463.30" width="3.20" height="5.00" fill="#fff" />
<rect x="189.50" y="478.30" width="3.20" height="5.00" fill="#fff" />
<rect x="195.35" y="463.30" width="3.20" height="5.00" fill="#fff" />
<rect x="195.35" y="478.30" width="3.20" height="5.00" fill="#fff" />
<rect x="201.20" y="463.30" width="3.20" height="5.00" fill="#fff" />
<rect x="201.20" y="478.30" width="3.20" height="5.00" fill="#fff" />
<rect x="207.05" y="463.30" width="3.20" height="5.00" fill="#fff" />
<rect x="207.05" y="478.30" width="3.20" height="5.00" fill="#fff" />
<rect x="132.70" y="470.30" width="33.60" height="6.00" fill="#fff" />
<rect x="170.70" y="470.30" width="34.80" height="6.00" fill="#fff" />
<polygon points="213.00,470.80 210.00,473.30 213.00,475.80" fill="#fff" stroke="none" stroke-width="0" stroke-linejoin="miter" />
<rect x="128.00" y="490.10" width="85.00" height="23.70" fill="#000" />
<rect x="131.00" y="492.10" width="3.20" height="5.00" fill="#fff" />
<rect x="131.00" y="507.10" width="3.20" height="5.00" fill="#fff" />
<rect x="136.85" y="492.10" width="3.20" height="5.00" fill="#fff" />
<rect x="136.85" y="507.10" width="3.20" height="5.00" fill="#fff" />
<rect x="142.70" y="492.10" width="3.20" height="5.00" fill="#fff" />
<rect x="142.70" y="507.10" width="3.20" height="5.00" fill="#fff" />
<rect x="148.55" y="492.10" width="3.20" height="5.00" fill="#fff" />
<rect x="148.55" y="507.10" width="3.20" height="5.00" fill="#fff" />
<rect x="154.40" y="492.10" width="3.20" height="5.00" fill="#fff" />
<rect x="154.40" y="507.10" width="3.20" height="5.00" fill="#fff" />
<rect x="160.25" y="492.10" width="3.20" height="5.00" fill="#fff" />
<rect x="160.25" y="507.10" width="3.20" height="5.00" fill="#fff" />
<rect x="166.10" y="492.10" width="3.20" height="5.00" fill="#fff" />
<rect x="166.10" y="507.10" width="3.20" height="5.00" fill="#fff" />
<rect x="171.95" y="492.10" width="3.20" height="5.00" fill="#fff" />
<rect x="171.95" y="507.10" width="3.20" height="5.00" fill="#fff" />
<rect x="177.80" y="492.10" width="3.20" height="5.00" fill="#fff" />
<rect x="177.80" y="507.10" width="3.20" height="5.00" fill="#fff" />
<rect x="183.65" y="492.10" width="3.20" height="5.00" fill="#fff" />
<rect x="183.65" y="507.10" width="3.20" height="5.00" fill="#fff" />
<rect x="189.50" y="492.10" width="3.20" height="5.00" fill="#fff" />
<rect x="189.50" y="507.10" width="3.20" height="5.00" fill="#fff" />
<rect x="195.35" y="492.10" width="3.20" height="5.00" fill="#fff" />
<rect x="195.35" y="507.10" width="3.20" height="5.00" fill="#fff" />
<rect x="201.20" y="492.10" width="3.20" height="5.00" fill="#fff" />
<rect x="201.20" y="507.10" width="3.20" height="5.00" fill="#fff" />
<rect x="207.05" y="492.10" width="3.20" height="5.00" fill="#fff" />
<rect x="207.05" y="507.10" width="3.20" height="5.00" fill="#fff" />
<rect x="132.70" y="499.10" width="33.60" height="6.00" fill="#fff" />
<rect x="170.70" y="499.10" width="34.80" height="6.00" fill="#fff" />
<polygon points="213.00,499.60 210.00,502.10 213.00,504.60" fill="#fff" stroke="none" stroke-width="0" stroke-linejoin="miter" />
<rect x="344.10" y="346.10" width="226.10" height="18.50" fill="#000" />
<rect x="345.10" y="347.10" width="224.10" height="14.80" fill="#fff" />
<rect x="345.10" y="362.90" width="224.10" height="0.70" fill="#fff" />
<rect x="344.10" y="352.90" width="7.50" height="1.00" fill="#000" />
<rect x="344.10" y="359.90" width="7.50" height="1.00" fill="#000" />
<rect x="351.30" y="346.10" width="3.50" height="16.00" fill="#000" />
<polygon points="354.80,347.90 361.70,347.90 361.70,352.30 364.30,352.30 364.30,361.10 354.80,361.10" fill="#fff" stroke="#000" stroke-width="1" stroke-linejoin="miter" />
<rect x="356.00" y="350.40" width="2.60" height="0.90" fill="#000" />
<rect x="357.80" y="350.40" width="0.80" height="2.20" fill="#000" />
<rect x="562.70" y="352.90" width="7.50" height="1.00" fill="#000" />
<rect x="562.70" y="359.90" width="7.50" height="1.00" fill="#000" />
<rect x="558.50" y="346.10" width="3.50" height="16.00" fill="#000" />
<polygon points="558.80,347.90 552.00,347.90 552.00,352.30 548.80,352.30 548.80,361.10 558.80,361.10" fill="#fff" stroke="#000" stroke-width="1" stroke-linejoin="miter" />
<rect x="554.50" y="350.40" width="3.00" height="0.90" fill="#000" />
<rect x="554.50" y="350.40" width="0.80" height="2.20" fill="#000" />
<rect x="368.60" y="348.90" width="80.90" height="13.20" fill="#000" />
<rect x="465.50" y="348.90" width="78.80" height="13.20" fill="#000" />
<rect x="371.40" y="354.70" width="4.10" height="6.20" fill="#fff" />
<rect x="372.55" y="350.30" width="1.80" height="3.40" fill="#fff" />
<rect x="377.35" y="354.70" width="4.10" height="6.20" fill="#fff" />
<rect x="378.50" y="350.30" width="1.80" height="3.40" fill="#fff" />
<rect x="383.30" y="354.70" width="4.10" height="6.20" fill="#fff" />
<rect x="384.45" y="350.30" width="1.80" height="3.40" fill="#fff" />
<rect x="389.25" y="354.70" width="4.10" height="6.20" fill="#fff" />
<rect x="390.40" y="350.30" width="1.80" height="3.40" fill="#fff" />
<rect x="395.20" y="354.70" width="4.10" height="6.20" fill="#fff" />
<rect x="396.35" y="350.30" width="1.80" height="3.40" fill="#fff" />
<rect x="401.15" y="354.70" width="4.10" height="6.20" fill="#fff" />
<rect x="402.30" y="350.30" width="1.80" height="3.40" fill="#fff" />
<rect x="407.10" y="354.70" width="4.10" height="6.20" fill="#fff" />
<rect x="408.25" y="350.30" width="1.80" height="3.40" fill="#fff" />
<rect x="413.05" y="354.70" width="4.10" height="6.20" fill="#fff" />
<rect x="414.20" y="350.30" width="1.80" height="3.40" fill="#fff" />
<rect x="419.00" y="354.70" width="4.10" height="6.20" fill="#fff" />
<rect x="420.15" y="350.30" width="1.80" height="3.40" fill="#fff" />
<rect x="424.95" y="354.70" width="4.10" height="6.20" fill="#fff" />
<rect x="426.10" y="350.30" width="1.80" height="3.40" fill="#fff" />
<rect x="430.90" y="354.70" width="4.10" height="6.20" fill="#fff" />
<rect x="432.05" y="350.30" width="1.80" height="3.40" fill="#fff" />
<rect x="436.85" y="354.70" width="4.10" height="6.20" fill="#fff" />
<rect x="438.00" y="350.30" width="1.80" height="3.40" fill="#fff" />
<rect x="442.80" y="354.70" width="4.10" height="6.20" fill="#fff" />
<rect x="443.95" y="350.30" width="1.80" height="3.40" fill="#fff" />
<rect x="467.20" y="354.70" width="4.10" height="6.20" fill="#fff" />
<rect x="468.35" y="350.30" width="1.80" height="3.40" fill="#fff" />
<rect x="473.15" y="354.70" width="4.10" height="6.20" fill="#fff" />
<rect x="474.30" y="350.30" width="1.80" height="3.40" fill="#fff" />
<rect x="479.10" y="354.70" width="4.10" height="6.20" fill="#fff" />
<rect x="480.25" y="350.30" width="1.80" height="3.40" fill="#fff" />
<rect x="485.05" y="354.70" width="4.10" height="6.20" fill="#fff" />
<rect x="486.20" y="350.30" width="1.80" height="3.40" fill="#fff" />
<rect x="491.00" y="354.70" width="4.10" height="6.20" fill="#fff" />
<rect x="492.15" y="350.30" width="1.80" height="3.40" fill="#fff" />
<rect x="496.95" y="354.70" width="4.10" height="6.20" fill="#fff" />
<rect x="498.10" y="350.30" width="1.80" height="3.40" fill="#fff" />
<rect x="502.90" y="354.70" width="4.10" height="6.20" fill="#fff" />
<rect x="504.05" y="350.30" width="1.80" height="3.40" fill="#fff" />
<rect x="508.85" y="354.70" width="4.10" height="6.20" fill="#fff" />
<rect x="510.00" y="350.30" width="1.80" height="3.40" fill="#fff" />
<rect x="514.80" y="354.70" width="4.10" height="6.20" fill="#fff" />
<rect x="515.95" y="350.30" width="1.80" height="3.40" fill="#fff" />
<rect x="520.75" y="354.70" width="4.10" height="6.20" fill="#fff" />
<rect x="521.90" y="350.30" width="1.80" height="3.40" fill="#fff" />
<rect x="526.70" y="354.70" width="4.10" height="6.20" fill="#fff" />
<rect x="527.85" y="350.30" width="1.80" height="3.40" fill="#fff" />
<rect x="532.65" y="354.70" width="4.10" height="6.20" fill="#fff" />
<rect x="533.80" y="350.30" width="1.80" height="3.40" fill="#fff" />
<rect x="538.60" y="354.70" width="4.10" height="6.20" fill="#fff" />
<rect x="539.75" y="350.30" width="1.80" height="3.40" fill="#fff" />
<rect x="344.10" y="366.10" width="226.10" height="18.50" fill="#000" />
<rect x="345.10" y="367.10" width="224.10" height="14.80" fill="#fff" />
<rect x="345.10" y="382.90" width="224.10" height="0.70" fill="#fff" />
<rect x="344.10" y="372.90" width="7.50" height="1.00" fill="#000" />
<rect x="344.10" y="379.90" width="7.50" height="1.00" fill="#000" />
<rect x="351.30" y="366.10" width="3.50" height="16.00" fill="#000" />
<polygon points="354.80,367.90 361.70,367.90 361.70,372.30 364.30,372.30 364.30,381.10 354.80,381.10" fill="#fff" stroke="#000" stroke-width="1" stroke-linejoin="miter" />
<rect x="356.00" y="370.40" width="2.60" height="0.90" fill="#000" />
<rect x="357.80" y="370.40" width="0.80" height="2.20" fill="#000" />
<rect x="562.70" y="372.90" width="7.50" height="1.00" fill="#000" />
<rect x="562.70" y="379.90" width="7.50" height="1.00" fill="#000" />
<rect x="558.50" y="366.10" width="3.50" height="16.00" fill="#000" />
<polygon points="558.80,367.90 552.00,367.90 552.00,372.30 548.80,372.30 548.80,381.10 558.80,381.10" fill="#fff" stroke="#000" stroke-width="1" stroke-linejoin="miter" />
<rect x="554.50" y="370.40" width="3.00" height="0.90" fill="#000" />
<rect x="554.50" y="370.40" width="0.80" height="2.20" fill="#000" />
<rect x="368.60" y="368.90" width="80.90" height="13.20" fill="#000" />
<rect x="465.50" y="368.90" width="78.80" height="13.20" fill="#000" />
<rect x="371.40" y="374.70" width="4.10" height="6.20" fill="#fff" />
<rect x="372.55" y="370.30" width="1.80" height="3.40" fill="#fff" />
<rect x="377.35" y="374.70" width="4.10" height="6.20" fill="#fff" />
<rect x="378.50" y="370.30" width="1.80" height="3.40" fill="#fff" />
<rect x="383.30" y="374.70" width="4.10" height="6.20" fill="#fff" />
<rect x="384.45" y="370.30" width="1.80" height="3.40" fill="#fff" />
<rect x="389.25" y="374.70" width="4.10" height="6.20" fill="#fff" />
<rect x="390.40" y="370.30" width="1.80" height="3.40" fill="#fff" />
<rect x="395.20" y="374.70" width="4.10" height="6.20" fill="#fff" />
<rect x="396.35" y="370.30" width="1.80" height="3.40" fill="#fff" />
<rect x="401.15" y="374.70" width="4.10" height="6.20" fill="#fff" />
<rect x="402.30" y="370.30" width="1.80" height="3.40" fill="#fff" />
<rect x="407.10" y="374.70" width="4.10" height="6.20" fill="#fff" />
<rect x="408.25" y="370.30" width="1.80" height="3.40" fill="#fff" />
<rect x="413.05" y="374.70" width="4.10" height="6.20" fill="#fff" />
<rect x="414.20" y="370.30" width="1.80" height="3.40" fill="#fff" />
<rect x="419.00" y="374.70" width="4.10" height="6.20" fill="#fff" />
<rect x="420.15" y="370.30" width="1.80" height="3.40" fill="#fff" />
<rect x="424.95" y="374.70" width="4.10" height="6.20" fill="#fff" />
<rect x="426.10" y="370.30" width="1.80" height="3.40" fill="#fff" />
<rect x="430.90" y="374.70" width="4.10" height="6.20" fill="#fff" />
<rect x="432.05" y="370.30" width="1.80" height="3.40" fill="#fff" />
<rect x="436.85" y="374.70" width="4.10" height="6.20" fill="#fff" />
<rect x="438.00" y="370.30" width="1.80" height="3.40" fill="#fff" />
<rect x="442.80" y="374.70" width="4.10" height="6.20" fill="#fff" />
<rect x="443.95" y="370.30" width="1.80" height="3.40" fill="#fff" />
<rect x="467.20" y="374.70" width="4.10" height="6.20" fill="#fff" />
<rect x="468.35" y="370.30" width="1.80" height="3.40" fill="#fff" />
<rect x="473.15" y="374.70" width="4.10" height="6.20" fill="#fff" />
<rect x="474.30" y="370.30" width="1.80" height="3.40" fill="#fff" />
<rect x="479.10" y="374.70" width="4.10" height="6.20" fill="#fff" />
<rect x="480.25" y="370.30" width="1.80" height="3.40" fill="#fff" />
<rect x="485.05" y="374.70" width="4.10" height="6.20" fill="#fff" />
<rect x="486.20" y="370.30" width="1.80" height="3.40" fill="#fff" />
<rect x="491.00" y="374.70" width="4.10" height="6.20" fill="#fff" />
<rect x="492.15" y="370.30" width="1.80" height="3.40" fill="#fff" />
<rect x="496.95" y="374.70" width="4.10" height="6.20" fill="#fff" />
<rect x="498.10" y="370.30" width="1.80" height="3.40" fill="#fff" />
<rect x="502.90" y="374.70" width="4.10" height="6.20" fill="#fff" />
<rect x="504.05" y="370.30" width="1.80" height="3.40" fill="#fff" />
<rect x="508.85" y="374.70" width="4.10" height="6.20" fill="#fff" />
<rect x="510.00" y="370.30" width="1.80" height="3.40" fill="#fff" />
<rect x="514.80" y="374.70" width="4.10" height="6.20" fill="#fff" />
<rect x="515.95" y="370.30" width="1.80" height="3.40" fill="#fff" />
<rect x="520.75" y="374.70" width="4.10" height="6.20" fill="#fff" />
<rect x="521.90" y="370.30" width="1.80" height="3.40" fill="#fff" />
<rect x="526.70" y="374.70" width="4.10" height="6.20" fill="#fff" />
<rect x="527.85" y="370.30" width="1.80" height="3.40" fill="#fff" />
<rect x="532.65" y="374.70" width="4.10" height="6.20" fill="#fff" />
<rect x="533.80" y="370.30" width="1.80" height="3.40" fill="#fff" />
<rect x="538.60" y="374.70" width="4.10" height="6.20" fill="#fff" />
<rect x="539.75" y="370.30" width="1.80" height="3.40" fill="#fff" />
<rect x="344.10" y="386.00" width="226.10" height="18.50" fill="#000" />
<rect x="345.10" y="387.00" width="224.10" height="14.80" fill="#fff" />
<rect x="345.10" y="402.80" width="224.10" height="0.70" fill="#fff" />
<rect x="344.10" y="392.80" width="7.50" height="1.00" fill="#000" />
<rect x="344.10" y="399.80" width="7.50" height="1.00" fill="#000" />
<rect x="351.30" y="386.00" width="3.50" height="16.00" fill="#000" />
<polygon points="354.80,387.80 361.70,387.80 361.70,392.20 364.30,392.20 364.30,401.00 354.80,401.00" fill="#fff" stroke="#000" stroke-width="1" stroke-linejoin="miter" />
<rect x="356.00" y="390.30" width="2.60" height="0.90" fill="#000" />
<rect x="357.80" y="390.30" width="0.80" height="2.20" fill="#000" />
<rect x="562.70" y="392.80" width="7.50" height="1.00" fill="#000" />
<rect x="562.70" y="399.80" width="7.50" height="1.00" fill="#000" />
<rect x="558.50" y="386.00" width="3.50" height="16.00" fill="#000" />
<polygon points="558.80,387.80 552.00,387.80 552.00,392.20 548.80,392.20 548.80,401.00 558.80,401.00" fill="#fff" stroke="#000" stroke-width="1" stroke-linejoin="miter" />
<rect x="554.50" y="390.30" width="3.00" height="0.90" fill="#000" />
<rect x="554.50" y="390.30" width="0.80" height="2.20" fill="#000" />
<rect x="368.60" y="388.80" width="80.90" height="13.20" fill="#000" />
<rect x="465.50" y="388.80" width="78.80" height="13.20" fill="#000" />
<rect x="371.40" y="394.60" width="4.10" height="6.20" fill="#fff" />
<rect x="372.55" y="390.20" width="1.80" height="3.40" fill="#fff" />
<rect x="377.35" y="394.60" width="4.10" height="6.20" fill="#fff" />
<rect x="378.50" y="390.20" width="1.80" height="3.40" fill="#fff" />
<rect x="383.30" y="394.60" width="4.10" height="6.20" fill="#fff" />
<rect x="384.45" y="390.20" width="1.80" height="3.40" fill="#fff" />
<rect x="389.25" y="394.60" width="4.10" height="6.20" fill="#fff" />
<rect x="390.40" y="390.20" width="1.80" height="3.40" fill="#fff" />
<rect x="395.20" y="394.60" width="4.10" height="6.20" fill="#fff" />
<rect x="396.35" y="390.20" width="1.80" height="3.40" fill="#fff" />
<rect x="401.15" y="394.60" width="4.10" height="6.20" fill="#fff" />
<rect x="402.30" y="390.20" width="1.80" height="3.40" fill="#fff" />
<rect x="407.10" y="394.60" width="4.10" height="6.20" fill="#fff" />
<rect x="408.25" y="390.20" width="1.80" height="3.40" fill="#fff" />
<rect x="413.05" y="394.60" width="4.10" height="6.20" fill="#fff" />
<rect x="414.20" y="390.20" width="1.80" height="3.40" fill="#fff" />
<rect x="419.00" y="394.60" width="4.10" height="6.20" fill="#fff" />
<rect x="420.15" y="390.20" width="1.80" height="3.40" fill="#fff" />
<rect x="424.95" y="394.60" width="4.10" height="6.20" fill="#fff" />
<rect x="426.10" y="390.20" width="1.80" height="3.40" fill="#fff" />
<rect x="430.90" y="394.60" width="4.10" height="6.20" fill="#fff" />
<rect x="432.05" y="390.20" width="1.80" height="3.40" fill="#fff" />
<rect x="436.85" y="394.60" width="4.10" height="6.20" fill="#fff" />
<rect x="438.00" y="390.20" width="1.80" height="3.40" fill="#fff" />
<rect x="442.80" y="394.60" width="4.10" height="6.20" fill="#fff" />
<rect x="443.95" y="390.20" width="1.80" height="3.40" fill="#fff" />
<rect x="467.20" y="394.60" width="4.10" height="6.20" fill="#fff" />
<rect x="468.35" y="390.20" width="1.80" height="3.40" fill="#fff" />
<rect x="473.15" y="394.60" width="4.10" height="6.20" fill="#fff" />
<rect x="474.30" y="390.20" width="1.80" height="3.40" fill="#fff" />
<rect x="479.10" y="394.60" width="4.10" height="6.20" fill="#fff" />
<rect x="480.25" y="390.20" width="1.80" height="3.40" fill="#fff" />
<rect x="485.05" y="394.60" width="4.10" height="6.20" fill="#fff" />
<rect x="486.20" y="390.20" width="1.80" height="3.40" fill="#fff" />
<rect x="491.00" y="394.60" width="4.10" height="6.20" fill="#fff" />
<rect x="492.15" y="390.20" width="1.80" height="3.40" fill="#fff" />
<rect x="496.95" y="394.60" width="4.10" height="6.20" fill="#fff" />
<rect x="498.10" y="390.20" width="1.80" height="3.40" fill="#fff" />
<rect x="502.90" y="394.60" width="4.10" height="6.20" fill="#fff" />
<rect x="504.05" y="390.20" width="1.80" height="3.40" fill="#fff" />
<rect x="508.85" y="394.60" width="4.10" height="6.20" fill="#fff" />
<rect x="510.00" y="390.20" width="1.80" height="3.40" fill="#fff" />
<rect x="514.80" y="394.60" width="4.10" height="6.20" fill="#fff" />
<rect x="515.95" y="390.20" width="1.80" height="3.40" fill="#fff" />
<rect x="520.75" y="394.60" width="4.10" height="6.20" fill="#fff" />
<rect x="521.90" y="390.20" width="1.80" height="3.40" fill="#fff" />
<rect x="526.70" y="394.60" width="4.10" height="6.20" fill="#fff" />
<rect x="527.85" y="390.20" width="1.80" height="3.40" fill="#fff" />
<rect x="532.65" y="394.60" width="4.10" height="6.20" fill="#fff" />
<rect x="533.80" y="390.20" width="1.80" height="3.40" fill="#fff" />
<rect x="538.60" y="394.60" width="4.10" height="6.20" fill="#fff" />
<rect x="539.75" y="390.20" width="1.80" height="3.40" fill="#fff" />
<rect x="344.10" y="406.30" width="226.10" height="18.50" fill="#000" />
<rect x="345.10" y="407.30" width="224.10" height="14.80" fill="#fff" />
<rect x="345.10" y="423.10" width="224.10" height="0.70" fill="#fff" />
<rect x="344.10" y="413.10" width="7.50" height="1.00" fill="#000" />
<rect x="344.10" y="420.10" width="7.50" height="1.00" fill="#000" />
<rect x="351.30" y="406.30" width="3.50" height="16.00" fill="#000" />
<polygon points="354.80,408.10 361.70,408.10 361.70,412.50 364.30,412.50 364.30,421.30 354.80,421.30" fill="#fff" stroke="#000" stroke-width="1" stroke-linejoin="miter" />
<rect x="356.00" y="410.60" width="2.60" height="0.90" fill="#000" />
<rect x="357.80" y="410.60" width="0.80" height="2.20" fill="#000" />
<rect x="562.70" y="413.10" width="7.50" height="1.00" fill="#000" />
<rect x="562.70" y="420.10" width="7.50" height="1.00" fill="#000" />
<rect x="558.50" y="406.30" width="3.50" height="16.00" fill="#000" />
<polygon points="558.80,408.10 552.00,408.10 552.00,412.50 548.80,412.50 548.80,421.30 558.80,421.30" fill="#fff" stroke="#000" stroke-width="1" stroke-linejoin="miter" />
<rect x="554.50" y="410.60" width="3.00" height="0.90" fill="#000" />
<rect x="554.50" y="410.60" width="0.80" height="2.20" fill="#000" />
<rect x="368.60" y="409.10" width="80.90" height="13.20" fill="#000" />
<rect x="465.50" y="409.10" width="78.80" height="13.20" fill="#000" />
<rect x="371.40" y="414.90" width="4.10" height="6.20" fill="#fff" />
<rect x="372.55" y="410.50" width="1.80" height="3.40" fill="#fff" />
<rect x="377.35" y="414.90" width="4.10" height="6.20" fill="#fff" />
<rect x="378.50" y="410.50" width="1.80" height="3.40" fill="#fff" />
<rect x="383.30" y="414.90" width="4.10" height="6.20" fill="#fff" />
<rect x="384.45" y="410.50" width="1.80" height="3.40" fill="#fff" />
<rect x="389.25" y="414.90" width="4.10" height="6.20" fill="#fff" />
<rect x="390.40" y="410.50" width="1.80" height="3.40" fill="#fff" />
<rect x="395.20" y="414.90" width="4.10" height="6.20" fill="#fff" />
<rect x="396.35" y="410.50" width="1.80" height="3.40" fill="#fff" />
<rect x="401.15" y="414.90" width="4.10" height="6.20" fill="#fff" />
<rect x="402.30" y="410.50" width="1.80" height="3.40" fill="#fff" />
<rect x="407.10" y="414.90" width="4.10" height="6.20" fill="#fff" />
<rect x="408.25" y="410.50" width="1.80" height="3.40" fill="#fff" />
<rect x="413.05" y="414.90" width="4.10" height="6.20" fill="#fff" />
<rect x="414.20" y="410.50" width="1.80" height="3.40" fill="#fff" />
<rect x="419.00" y="414.90" width="4.10" height="6.20" fill="#fff" />
<rect x="420.15" y="410.50" width="1.80" height="3.40" fill="#fff" />
<rect x="424.95" y="414.90" width="4.10" height="6.20" fill="#fff" />
<rect x="426.10" y="410.50" width="1.80" height="3.40" fill="#fff" />
<rect x="430.90" y="414.90" width="4.10" height="6.20" fill="#fff" />
<rect x="432.05" y="410.50" width="1.80" height="3.40" fill="#fff" />
<rect x="436.85" y="414.90" width="4.10" height="6.20" fill="#fff" />
<rect x="438.00" y="410.50" width="1.80" height="3.40" fill="#fff" />
<rect x="442.80" y="414.90" width="4.10" height="6.20" fill="#fff" />
<rect x="443.95" y="410.50" width="1.80" height="3.40" fill="#fff" />
<rect x="467.20" y="414.90" width="4.10" height="6.20" fill="#fff" />
<rect x="468.35" y="410.50" width="1.80" height="3.40" fill="#fff" />
<rect x="473.15" y="414.90" width="4.10" height="6.20" fill="#fff" />
<rect x="474.30" y="410.50" width="1.80" height="3.40" fill="#fff" />
<rect x="479.10" y="414.90" width="4.10" height="6.20" fill="#fff" />
<rect x="480.25" y="410.50" width="1.80" height="3.40" fill="#fff" />
<rect x="485.05" y="414.90" width="4.10" height="6.20" fill="#fff" />
<rect x="486.20" y="410.50" width="1.80" height="3.40" fill="#fff" />
<rect x="491.00" y="414.90" width="4.10" height="6.20" fill="#fff" />
<rect x="492.15" y="410.50" width="1.80" height="3.40" fill="#fff" />
<rect x="496.95" y="414.90" width="4.10" height="6.20" fill="#fff" />
<rect x="498.10" y="410.50" width="1.80" height="3.40" fill="#fff" />
<rect x="502.90" y="414.90" width="4.10" height="6.20" fill="#fff" />
<rect x="504.05" y="410.50" width="1.80" height="3.40" fill="#fff" />
<rect x="508.85" y="414.90" width="4.10" height="6.20" fill="#fff" />
<rect x="510.00" y="410.50" width="1.80" height="3.40" fill="#fff" />
<rect x="514.80" y="414.90" width="4.10" height="6.20" fill="#fff" />
<rect x="515.95" y="410.50" width="1.80" height="3.40" fill="#fff" />
<rect x="520.75" y="414.90" width="4.10" height="6.20" fill="#fff" />
<rect x="521.90" y="410.50" width="1.80" height="3.40" fill="#fff" />
<rect x="526.70" y="414.90" width="4.10" height="6.20" fill="#fff" />
<rect x="527.85" y="410.50" width="1.80" height="3.40" fill="#fff" />
<rect x="532.65" y="414.90" width="4.10" height="6.20" fill="#fff" />
<rect x="533.80" y="410.50" width="1.80" height="3.40" fill="#fff" />
<rect x="538.60" y="414.90" width="4.10" height="6.20" fill="#fff" />
<rect x="539.75" y="410.50" width="1.80" height="3.40" fill="#fff" />
<rect x="344.10" y="434.20" width="226.10" height="18.50" fill="#000" />
<rect x="345.10" y="435.20" width="224.10" height="14.80" fill="#fff" />
<rect x="345.10" y="451.00" width="224.10" height="0.70" fill="#fff" />
<rect x="344.10" y="441.00" width="7.50" height="1.00" fill="#000" />
<rect x="344.10" y="448.00" width="7.50" height="1.00" fill="#000" />
<rect x="350.30" y="434.20" width="1.10" height="16.00" fill="#000" />
<rect x="352.10" y="434.20" width="1.90" height="16.00" fill="#000" />
<rect x="343.00" y="441.00" width="1.60" height="8.00" fill="#000" />
<rect x="343.00" y="441.00" width="1.00" height="8.00" fill="#000" />
<polygon points="354.80,436.00 361.70,436.00 361.70,440.40 364.30,440.40 364.30,449.20 354.80,449.20" fill="#fff" stroke="#000" stroke-width="1" stroke-linejoin="miter" />
<rect x="356.00" y="438.50" width="2.60" height="0.90" fill="#000" />
<rect x="357.80" y="438.50" width="0.80" height="2.20" fill="#000" />
<rect x="562.70" y="441.00" width="7.50" height="1.00" fill="#000" />
<rect x="562.70" y="448.00" width="7.50" height="1.00" fill="#000" />
<rect x="562.90" y="434.20" width="1.10" height="16.00" fill="#000" />
<rect x="560.30" y="434.20" width="1.90" height="16.00" fill="#000" />
<rect x="569.70" y="441.00" width="1.60" height="8.00" fill="#000" />
<polygon points="558.80,436.00 552.00,436.00 552.00,440.40 548.80,440.40 548.80,449.20 558.80,449.20" fill="#fff" stroke="#000" stroke-width="1" stroke-linejoin="miter" />
<rect x="554.50" y="438.50" width="3.00" height="0.90" fill="#000" />
<rect x="554.50" y="438.50" width="0.80" height="2.20" fill="#000" />
<rect x="368.00" y="436.10" width="81.50" height="14.10" fill="#000" />
<rect x="465.50" y="436.10" width="79.40" height="14.10" fill="#000" />
<rect x="370.80" y="443.20" width="4.90" height="6.00" fill="#fff" />
<rect x="372.35" y="437.40" width="1.80" height="4.50" fill="#fff" />
<rect x="376.75" y="443.20" width="4.90" height="6.00" fill="#fff" />
<rect x="378.30" y="437.40" width="1.80" height="4.50" fill="#fff" />
<rect x="382.70" y="443.20" width="4.90" height="6.00" fill="#fff" />
<rect x="384.25" y="437.40" width="1.80" height="4.50" fill="#fff" />
<rect x="388.65" y="443.20" width="4.90" height="6.00" fill="#fff" />
<rect x="390.20" y="437.40" width="1.80" height="4.50" fill="#fff" />
<rect x="394.60" y="443.20" width="4.90" height="6.00" fill="#fff" />
<rect x="396.15" y="437.40" width="1.80" height="4.50" fill="#fff" />
<rect x="400.55" y="443.20" width="4.90" height="6.00" fill="#fff" />
<rect x="402.10" y="437.40" width="1.80" height="4.50" fill="#fff" />
<rect x="406.50" y="443.20" width="4.90" height="6.00" fill="#fff" />
<rect x="408.05" y="437.40" width="1.80" height="4.50" fill="#fff" />
<rect x="412.45" y="443.20" width="4.90" height="6.00" fill="#fff" />
<rect x="414.00" y="437.40" width="1.80" height="4.50" fill="#fff" />
<rect x="418.40" y="443.20" width="4.90" height="6.00" fill="#fff" />
<rect x="419.95" y="437.40" width="1.80" height="4.50" fill="#fff" />
<rect x="424.35" y="443.20" width="4.90" height="6.00" fill="#fff" />
<rect x="425.90" y="437.40" width="1.80" height="4.50" fill="#fff" />
<rect x="430.30" y="443.20" width="4.90" height="6.00" fill="#fff" />
<rect x="431.85" y="437.40" width="1.80" height="4.50" fill="#fff" />
<rect x="436.25" y="443.20" width="4.90" height="6.00" fill="#fff" />
<rect x="437.80" y="437.40" width="1.80" height="4.50" fill="#fff" />
<rect x="442.20" y="443.20" width="4.90" height="6.00" fill="#fff" />
<rect x="443.75" y="437.40" width="1.80" height="4.50" fill="#fff" />
<rect x="466.60" y="443.20" width="4.90" height="6.00" fill="#fff" />
<rect x="468.15" y="437.40" width="1.80" height="4.50" fill="#fff" />
<rect x="472.55" y="443.20" width="4.90" height="6.00" fill="#fff" />
<rect x="474.10" y="437.40" width="1.80" height="4.50" fill="#fff" />
<rect x="478.50" y="443.20" width="4.90" height="6.00" fill="#fff" />
<rect x="480.05" y="437.40" width="1.80" height="4.50" fill="#fff" />
<rect x="484.45" y="443.20" width="4.90" height="6.00" fill="#fff" />
<rect x="486.00" y="437.40" width="1.80" height="4.50" fill="#fff" />
<rect x="490.40" y="443.20" width="4.90" height="6.00" fill="#fff" />
<rect x="491.95" y="437.40" width="1.80" height="4.50" fill="#fff" />
<rect x="496.35" y="443.20" width="4.90" height="6.00" fill="#fff" />
<rect x="497.90" y="437.40" width="1.80" height="4.50" fill="#fff" />
<rect x="502.30" y="443.20" width="4.90" height="6.00" fill="#fff" />
<rect x="503.85" y="437.40" width="1.80" height="4.50" fill="#fff" />
<rect x="508.25" y="443.20" width="4.90" height="6.00" fill="#fff" />
<rect x="509.80" y="437.40" width="1.80" height="4.50" fill="#fff" />
<rect x="514.20" y="443.20" width="4.90" height="6.00" fill="#fff" />
<rect x="515.75" y="437.40" width="1.80" height="4.50" fill="#fff" />
<rect x="520.15" y="443.20" width="4.90" height="6.00" fill="#fff" />
<rect x="521.70" y="437.40" width="1.80" height="4.50" fill="#fff" />
<rect x="526.10" y="443.20" width="4.90" height="6.00" fill="#fff" />
<rect x="527.65" y="437.40" width="1.80" height="4.50" fill="#fff" />
<rect x="532.05" y="443.20" width="4.90" height="6.00" fill="#fff" />
<rect x="533.60" y="437.40" width="1.80" height="4.50" fill="#fff" />
<rect x="538.00" y="443.20" width="4.90" height="6.00" fill="#fff" />
<rect x="539.55" y="437.40" width="1.80" height="4.50" fill="#fff" />
<rect x="344.10" y="454.30" width="226.10" height="18.50" fill="#000" />
<rect x="345.10" y="455.30" width="224.10" height="14.80" fill="#fff" />
<rect x="345.10" y="471.10" width="224.10" height="0.70" fill="#fff" />
<rect x="344.10" y="461.10" width="7.50" height="1.00" fill="#000" />
<rect x="344.10" y="468.10" width="7.50" height="1.00" fill="#000" />
<rect x="350.30" y="454.30" width="1.10" height="16.00" fill="#000" />
<rect x="352.10" y="454.30" width="1.90" height="16.00" fill="#000" />
<rect x="343.00" y="461.10" width="1.60" height="8.00" fill="#000" />
<rect x="343.00" y="461.10" width="1.00" height="8.00" fill="#000" />
<polygon points="354.80,456.10 361.70,456.10 361.70,460.50 364.30,460.50 364.30,469.30 354.80,469.30" fill="#fff" stroke="#000" stroke-width="1" stroke-linejoin="miter" />
<rect x="356.00" y="458.60" width="2.60" height="0.90" fill="#000" />
<rect x="357.80" y="458.60" width="0.80" height="2.20" fill="#000" />
<rect x="562.70" y="461.10" width="7.50" height="1.00" fill="#000" />
<rect x="562.70" y="468.10" width="7.50" height="1.00" fill="#000" />
<rect x="562.90" y="454.30" width="1.10" height="16.00" fill="#000" />
<rect x="560.30" y="454.30" width="1.90" height="16.00" fill="#000" />
<rect x="569.70" y="461.10" width="1.60" height="8.00" fill="#000" />
<polygon points="558.80,456.10 552.00,456.10 552.00,460.50 548.80,460.50 548.80,469.30 558.80,469.30" fill="#fff" stroke="#000" stroke-width="1" stroke-linejoin="miter" />
<rect x="554.50" y="458.60" width="3.00" height="0.90" fill="#000" />
<rect x="554.50" y="458.60" width="0.80" height="2.20" fill="#000" />
<rect x="368.00" y="456.20" width="81.50" height="14.10" fill="#000" />
<rect x="465.50" y="456.20" width="79.40" height="14.10" fill="#000" />
<rect x="370.80" y="463.30" width="4.90" height="6.00" fill="#fff" />
<rect x="372.35" y="457.50" width="1.80" height="4.50" fill="#fff" />
<rect x="376.75" y="463.30" width="4.90" height="6.00" fill="#fff" />
<rect x="378.30" y="457.50" width="1.80" height="4.50" fill="#fff" />
<rect x="382.70" y="463.30" width="4.90" height="6.00" fill="#fff" />
<rect x="384.25" y="457.50" width="1.80" height="4.50" fill="#fff" />
<rect x="388.65" y="463.30" width="4.90" height="6.00" fill="#fff" />
<rect x="390.20" y="457.50" width="1.80" height="4.50" fill="#fff" />
<rect x="394.60" y="463.30" width="4.90" height="6.00" fill="#fff" />
<rect x="396.15" y="457.50" width="1.80" height="4.50" fill="#fff" />
<rect x="400.55" y="463.30" width="4.90" height="6.00" fill="#fff" />
<rect x="402.10" y="457.50" width="1.80" height="4.50" fill="#fff" />
<rect x="406.50" y="463.30" width="4.90" height="6.00" fill="#fff" />
<rect x="408.05" y="457.50" width="1.80" height="4.50" fill="#fff" />
<rect x="412.45" y="463.30" width="4.90" height="6.00" fill="#fff" />
<rect x="414.00" y="457.50" width="1.80" height="4.50" fill="#fff" />
<rect x="418.40" y="463.30" width="4.90" height="6.00" fill="#fff" />
<rect x="419.95" y="457.50" width="1.80" height="4.50" fill="#fff" />
<rect x="424.35" y="463.30" width="4.90" height="6.00" fill="#fff" />
<rect x="425.90" y="457.50" width="1.80" height="4.50" fill="#fff" />
<rect x="430.30" y="463.30" width="4.90" height="6.00" fill="#fff" />
<rect x="431.85" y="457.50" width="1.80" height="4.50" fill="#fff" />
<rect x="436.25" y="463.30" width="4.90" height="6.00" fill="#fff" />
<rect x="437.80" y="457.50" width="1.80" height="4.50" fill="#fff" />
<rect x="442.20" y="463.30" width="4.90" height="6.00" fill="#fff" />
<rect x="443.75" y="457.50" width="1.80" height="4.50" fill="#fff" />
<rect x="466.60" y="463.30" width="4.90" height="6.00" fill="#fff" />
<rect x="468.15" y="457.50" width="1.80" height="4.50" fill="#fff" />
<rect x="472.55" y="463.30" width="4.90" height="6.00" fill="#fff" />
<rect x="474.10" y="457.50" width="1.80" height="4.50" fill="#fff" />
<rect x="478.50" y="463.30" width="4.90" height="6.00" fill="#fff" />
<rect x="480.05" y="457.50" width="1.80" height="4.50" fill="#fff" />
<rect x="484.45" y="463.30" width="4.90" height="6.00" fill="#fff" />
<rect x="486.00" y="457.50" width="1.80" height="4.50" fill="#fff" />
<rect x="490.40" y="463.30" width="4.90" height="6.00" fill="#fff" />
<rect x="491.95" y="457.50" width="1.80" height="4.50" fill="#fff" />
<rect x="496.35" y="463.30" width="4.90" height="6.00" fill="#fff" />
<rect x="497.90" y="457.50" width="1.80" height="4.50" fill="#fff" />
<rect x="502.30" y="463.30" width="4.90" height="6.00" fill="#fff" />
<rect x="503.85" y="457.50" width="1.80" height="4.50" fill="#fff" />
<rect x="508.25" y="463.30" width="4.90" height="6.00" fill="#fff" />
<rect x="509.80" y="457.50" width="1.80" height="4.50" fill="#fff" />
<rect x="514.20" y="463.30" width="4.90" height="6.00" fill="#fff" />
<rect x="515.75" y="457.50" width="1.80" height="4.50" fill="#fff" />
<rect x="520.15" y="463.30" width="4.90" height="6.00" fill="#fff" />
<rect x="521.70" y="457.50" width="1.80" height="4.50" fill="#fff" />
<rect x="526.10" y="463.30" width="4.90" height="6.00" fill="#fff" />
<rect x="527.65" y="457.50" width="1.80" height="4.50" fill="#fff" />
<rect x="532.05" y="463.30" width="4.90" height="6.00" fill="#fff" />
<rect x="533.60" y="457.50" width="1.80" height="4.50" fill="#fff" />
<rect x="538.00" y="463.30" width="4.90" height="6.00" fill="#fff" />
<rect x="539.55" y="457.50" width="1.80" height="4.50" fill="#fff" />
<rect x="344.10" y="474.20" width="226.10" height="18.50" fill="#000" />
<rect x="345.10" y="475.20" width="224.10" height="14.80" fill="#fff" />
<rect x="345.10" y="491.00" width="224.10" height="0.70" fill="#fff" />
<rect x="344.10" y="481.00" width="7.50" height="1.00" fill="#000" />
<rect x="344.10" y="488.00" width="7.50" height="1.00" fill="#000" />
<rect x="350.30" y="474.20" width="1.10" height="16.00" fill="#000" />
<rect x="352.10" y="474.20" width="1.90" height="16.00" fill="#000" />
<rect x="343.00" y="481.00" width="1.60" height="8.00" fill="#000" />
<rect x="343.00" y="481.00" width="1.00" height="8.00" fill="#000" />
<polygon points="354.80,476.00 361.70,476.00 361.70,480.40 364.30,480.40 364.30,489.20 354.80,489.20" fill="#fff" stroke="#000" stroke-width="1" stroke-linejoin="miter" />
<rect x="356.00" y="478.50" width="2.60" height="0.90" fill="#000" />
<rect x="357.80" y="478.50" width="0.80" height="2.20" fill="#000" />
<rect x="562.70" y="481.00" width="7.50" height="1.00" fill="#000" />
<rect x="562.70" y="488.00" width="7.50" height="1.00" fill="#000" />
<rect x="562.90" y="474.20" width="1.10" height="16.00" fill="#000" />
<rect x="560.30" y="474.20" width="1.90" height="16.00" fill="#000" />
<rect x="569.70" y="481.00" width="1.60" height="8.00" fill="#000" />
<polygon points="558.80,476.00 552.00,476.00 552.00,480.40 548.80,480.40 548.80,489.20 558.80,489.20" fill="#fff" stroke="#000" stroke-width="1" stroke-linejoin="miter" />
<rect x="554.50" y="478.50" width="3.00" height="0.90" fill="#000" />
<rect x="554.50" y="478.50" width="0.80" height="2.20" fill="#000" />
<rect x="368.00" y="476.10" width="81.50" height="14.10" fill="#000" />
<rect x="465.50" y="476.10" width="79.40" height="14.10" fill="#000" />
<rect x="370.80" y="483.20" width="4.90" height="6.00" fill="#fff" />
<rect x="372.35" y="477.40" width="1.80" height="4.50" fill="#fff" />
<rect x="376.75" y="483.20" width="4.90" height="6.00" fill="#fff" />
<rect x="378.30" y="477.40" width="1.80" height="4.50" fill="#fff" />
<rect x="382.70" y="483.20" width="4.90" height="6.00" fill="#fff" />
<rect x="384.25" y="477.40" width="1.80" height="4.50" fill="#fff" />
<rect x="388.65" y="483.20" width="4.90" height="6.00" fill="#fff" />
<rect x="390.20" y="477.40" width="1.80" height="4.50" fill="#fff" />
<rect x="394.60" y="483.20" width="4.90" height="6.00" fill="#fff" />
<rect x="396.15" y="477.40" width="1.80" height="4.50" fill="#fff" />
<rect x="400.55" y="483.20" width="4.90" height="6.00" fill="#fff" />
<rect x="402.10" y="477.40" width="1.80" height="4.50" fill="#fff" />
<rect x="406.50" y="483.20" width="4.90" height="6.00" fill="#fff" />
<rect x="408.05" y="477.40" width="1.80" height="4.50" fill="#fff" />
<rect x="412.45" y="483.20" width="4.90" height="6.00" fill="#fff" />
<rect x="414.00" y="477.40" width="1.80" height="4.50" fill="#fff" />
<rect x="418.40" y="483.20" width="4.90" height="6.00" fill="#fff" />
<rect x="419.95" y="477.40" width="1.80" height="4.50" fill="#fff" />
<rect x="424.35" y="483.20" width="4.90" height="6.00" fill="#fff" />
<rect x="425.90" y="477.40" width="1.80" height="4.50" fill="#fff" />
<rect x="430.30" y="483.20" width="4.90" height="6.00" fill="#fff" />
<rect x="431.85" y="477.40" width="1.80" height="4.50" fill="#fff" />
<rect x="436.25" y="483.20" width="4.90" height="6.00" fill="#fff" />
<rect x="437.80" y="477.40" width="1.80" height="4.50" fill="#fff" />
<rect x="442.20" y="483.20" width="4.90" height="6.00" fill="#fff" />
<rect x="443.75" y="477.40" width="1.80" height="4.50" fill="#fff" />
<rect x="466.60" y="483.20" width="4.90" height="6.00" fill="#fff" />
<rect x="468.15" y="477.40" width="1.80" height="4.50" fill="#fff" />
<rect x="472.55" y="483.20" width="4.90" height="6.00" fill="#fff" />
<rect x="474.10" y="477.40" width="1.80" height="4.50" fill="#fff" />
<rect x="478.50" y="483.20" width="4.90" height="6.00" fill="#fff" />
<rect x="480.05" y="477.40" width="1.80" height="4.50" fill="#fff" />
<rect x="484.45" y="483.20" width="4.90" height="6.00" fill="#fff" />
<rect x="486.00" y="477.40" width="1.80" height="4.50" fill="#fff" />
<rect x="490.40" y="483.20" width="4.90" height="6.00" fill="#fff" />
<rect x="491.95" y="477.40" width="1.80" height="4.50" fill="#fff" />
<rect x="496.35" y="483.20" width="4.90" height="6.00" fill="#fff" />
<rect x="497.90" y="477.40" width="1.80" height="4.50" fill="#fff" />
<rect x="502.30" y="483.20" width="4.90" height="6.00" fill="#fff" />
<rect x="503.85" y="477.40" width="1.80" height="4.50" fill="#fff" />
<rect x="508.25" y="483.20" width="4.90" height="6.00" fill="#fff" />
<rect x="509.80" y="477.40" width="1.80" height="4.50" fill="#fff" />
<rect x="514.20" y="483.20" width="4.90" height="6.00" fill="#fff" />
<rect x="515.75" y="477.40" width="1.80" height="4.50" fill="#fff" />
<rect x="520.15" y="483.20" width="4.90" height="6.00" fill="#fff" />
<rect x="521.70" y="477.40" width="1.80" height="4.50" fill="#fff" />
<rect x="526.10" y="483.20" width="4.90" height="6.00" fill="#fff" />
<rect x="527.65" y="477.40" width="1.80" height="4.50" fill="#fff" />
<rect x="532.05" y="483.20" width="4.90" height="6.00" fill="#fff" />
<rect x="533.60" y="477.40" width="1.80" height="4.50" fill="#fff" />
<rect x="538.00" y="483.20" width="4.90" height="6.00" fill="#fff" />
<rect x="539.55" y="477.40" width="1.80" height="4.50" fill="#fff" />
<rect x="344.10" y="494.40" width="226.10" height="18.50" fill="#000" />
<rect x="345.10" y="495.40" width="224.10" height="14.80" fill="#fff" />
<rect x="345.10" y="511.20" width="224.10" height="0.70" fill="#fff" />
<rect x="344.10" y="501.20" width="7.50" height="1.00" fill="#000" />
<rect x="344.10" y="508.20" width="7.50" height="1.00" fill="#000" />
<rect x="350.30" y="494.40" width="1.10" height="16.00" fill="#000" />
<rect x="352.10" y="494.40" width="1.90" height="16.00" fill="#000" />
<rect x="343.00" y="501.20" width="1.60" height="8.00" fill="#000" />
<rect x="343.00" y="501.20" width="1.00" height="8.00" fill="#000" />
<polygon points="354.80,496.20 361.70,496.20 361.70,500.60 364.30,500.60 364.30,509.40 354.80,509.40" fill="#fff" stroke="#000" stroke-width="1" stroke-linejoin="miter" />
<rect x="356.00" y="498.70" width="2.60" height="0.90" fill="#000" />
<rect x="357.80" y="498.70" width="0.80" height="2.20" fill="#000" />
<rect x="562.70" y="501.20" width="7.50" height="1.00" fill="#000" />
<rect x="562.70" y="508.20" width="7.50" height="1.00" fill="#000" />
<rect x="562.90" y="494.40" width="1.10" height="16.00" fill="#000" />
<rect x="560.30" y="494.40" width="1.90" height="16.00" fill="#000" />
<rect x="569.70" y="501.20" width="1.60" height="8.00" fill="#000" />
<polygon points="558.80,496.20 552.00,496.20 552.00,500.60 548.80,500.60 548.80,509.40 558.80,509.40" fill="#fff" stroke="#000" stroke-width="1" stroke-linejoin="miter" />
<rect x="554.50" y="498.70" width="3.00" height="0.90" fill="#000" />
<rect x="554.50" y="498.70" width="0.80" height="2.20" fill="#000" />
<rect x="368.00" y="496.30" width="81.50" height="14.10" fill="#000" />
<rect x="465.50" y="496.30" width="79.40" height="14.10" fill="#000" />
<rect x="370.80" y="503.40" width="4.90" height="6.00" fill="#fff" />
<rect x="372.35" y="497.60" width="1.80" height="4.50" fill="#fff" />
<rect x="376.75" y="503.40" width="4.90" height="6.00" fill="#fff" />
<rect x="378.30" y="497.60" width="1.80" height="4.50" fill="#fff" />
<rect x="382.70" y="503.40" width="4.90" height="6.00" fill="#fff" />
<rect x="384.25" y="497.60" width="1.80" height="4.50" fill="#fff" />
<rect x="388.65" y="503.40" width="4.90" height="6.00" fill="#fff" />
<rect x="390.20" y="497.60" width="1.80" height="4.50" fill="#fff" />
<rect x="394.60" y="503.40" width="4.90" height="6.00" fill="#fff" />
<rect x="396.15" y="497.60" width="1.80" height="4.50" fill="#fff" />
<rect x="400.55" y="503.40" width="4.90" height="6.00" fill="#fff" />
<rect x="402.10" y="497.60" width="1.80" height="4.50" fill="#fff" />
<rect x="406.50" y="503.40" width="4.90" height="6.00" fill="#fff" />
<rect x="408.05" y="497.60" width="1.80" height="4.50" fill="#fff" />
<rect x="412.45" y="503.40" width="4.90" height="6.00" fill="#fff" />
<rect x="414.00" y="497.60" width="1.80" height="4.50" fill="#fff" />
<rect x="418.40" y="503.40" width="4.90" height="6.00" fill="#fff" />
<rect x="419.95" y="497.60" width="1.80" height="4.50" fill="#fff" />
<rect x="424.35" y="503.40" width="4.90" height="6.00" fill="#fff" />
<rect x="425.90" y="497.60" width="1.80" height="4.50" fill="#fff" />
<rect x="430.30" y="503.40" width="4.90" height="6.00" fill="#fff" />
<rect x="431.85" y="497.60" width="1.80" height="4.50" fill="#fff" />
<rect x="436.25" y="503.40" width="4.90" height="6.00" fill="#fff" />
<rect x="437.80" y="497.60" width="1.80" height="4.50" fill="#fff" />
<rect x="442.20" y="503.40" width="4.90" height="6.00" fill="#fff" />
<rect x="443.75" y="497.60" width="1.80" height="4.50" fill="#fff" />
<rect x="466.60" y="503.40" width="4.90" height="6.00" fill="#fff" />
<rect x="468.15" y="497.60" width="1.80" height="4.50" fill="#fff" />
<rect x="472.55" y="503.40" width="4.90" height="6.00" fill="#fff" />
<rect x="474.10" y="497.60" width="1.80" height="4.50" fill="#fff" />
<rect x="478.50" y="503.40" width="4.90" height="6.00" fill="#fff" />
<rect x="480.05" y="497.60" width="1.80" height="4.50" fill="#fff" />
<rect x="484.45" y="503.40" width="4.90" height="6.00" fill="#fff" />
<rect x="486.00" y="497.60" width="1.80" height="4.50" fill="#fff" />
<rect x="490.40" y="503.40" width="4.90" height="6.00" fill="#fff" />
<rect x="491.95" y="497.60" width="1.80" height="4.50" fill="#fff" />
<rect x="496.35" y="503.40" width="4.90" height="6.00" fill="#fff" />
<rect x="497.90" y="497.60" width="1.80" height="4.50" fill="#fff" />
<rect x="502.30" y="503.40" width="4.90" height="6.00" fill="#fff" />
<rect x="503.85" y="497.60" width="1.80" height="4.50" fill="#fff" />
<rect x="508.25" y="503.40" width="4.90" height="6.00" fill="#fff" />
<rect x="509.80" y="497.60" width="1.80" height="4.50" fill="#fff" />
<rect x="514.20" y="503.40" width="4.90" height="6.00" fill="#fff" />
<rect x="515.75" y="497.60" width="1.80" height="4.50" fill="#fff" />
<rect x="520.15" y="503.40" width="4.90" height="6.00" fill="#fff" />
<rect x="521.70" y="497.60" width="1.80" height="4.50" fill="#fff" />
<rect x="526.10" y="503.40" width="4.90" height="6.00" fill="#fff" />
<rect x="527.65" y="497.60" width="1.80" height="4.50" fill="#fff" />
<rect x="532.05" y="503.40" width="4.90" height="6.00" fill="#fff" />
<rect x="533.60" y="497.60" width="1.80" height="4.50" fill="#fff" />
<rect x="538.00" y="503.40" width="4.90" height="6.00" fill="#fff" />
<rect x="539.55" y="497.60" width="1.80" height="4.50" fill="#fff" />
<rect x="603.90" y="405.20" width="24.30" height="111.30" fill="#000" />
<rect x="604.90" y="406.20" width="22.30" height="109.30" fill="#fff" />
<rect x="620.40" y="406.00" width="1.00" height="110.00" fill="#000" />
<rect x="608.00" y="405.20" width="4.50" height="1.80" fill="#fff" />
<rect x="608.00" y="515.00" width="4.50" height="1.50" fill="#fff" />
<polygon points="607.50,406.20 609.00,407.50 610.30,406.40 611.60,407.50 613.00,406.20" fill="none" stroke="#000" stroke-width="1" stroke-linejoin="miter" class="aa"/>
<polygon points="607.50,515.50 609.00,514.20 610.30,515.30 611.60,514.20 613.00,515.50" fill="none" stroke="#000" stroke-width="1" stroke-linejoin="miter" class="aa"/>
<rect x="607.00" y="410.80" width="7.00" height="7.00" fill="#000" />
<rect x="608.00" y="411.80" width="5.00" height="5.00" fill="#fff" />
<rect x="615.10" y="407.00" width="2.80" height="6.60" fill="#000" />
<polygon points="621.30,407.70 623.60,407.70 625.20,409.40 625.20,411.20 623.60,412.90 621.30,412.90" fill="#000" stroke="none" stroke-width="0" stroke-linejoin="miter" class="aa"/>
<rect x="607.00" y="420.10" width="7.00" height="7.00" fill="#000" />
<rect x="608.00" y="421.10" width="5.00" height="5.00" fill="#fff" />
<rect x="615.10" y="416.15" width="2.80" height="6.60" fill="#000" />
<polygon points="621.30,416.85 623.60,416.85 625.20,418.55 625.20,420.35 623.60,422.05 621.30,422.05" fill="#000" stroke="none" stroke-width="0" stroke-linejoin="miter" class="aa"/>
<rect x="607.00" y="429.40" width="7.00" height="7.00" fill="#000" />
<rect x="608.00" y="430.40" width="5.00" height="5.00" fill="#fff" />
<rect x="615.10" y="425.30" width="2.80" height="6.60" fill="#000" />
<polygon points="621.30,426.00 623.60,426.00 625.20,427.70 625.20,429.50 623.60,431.20 621.30,431.20" fill="#000" stroke="none" stroke-width="0" stroke-linejoin="miter" class="aa"/>
<rect x="607.00" y="438.70" width="7.00" height="7.00" fill="#000" />
<rect x="608.00" y="439.70" width="5.00" height="5.00" fill="#fff" />
<rect x="615.10" y="434.45" width="2.80" height="6.60" fill="#000" />
<polygon points="621.30,435.15 623.60,435.15 625.20,436.85 625.20,438.65 623.60,440.35 621.30,440.35" fill="#000" stroke="none" stroke-width="0" stroke-linejoin="miter" class="aa"/>
<rect x="607.00" y="448.00" width="7.00" height="7.00" fill="#000" />
<rect x="608.00" y="449.00" width="5.00" height="5.00" fill="#fff" />
<rect x="615.10" y="443.60" width="2.80" height="6.60" fill="#000" />
<polygon points="621.30,444.30 623.60,444.30 625.20,446.00 625.20,447.80 623.60,449.50 621.30,449.50" fill="#000" stroke="none" stroke-width="0" stroke-linejoin="miter" class="aa"/>
<rect x="607.00" y="457.30" width="7.00" height="7.00" fill="#000" />
<rect x="608.00" y="458.30" width="5.00" height="5.00" fill="#fff" />
<rect x="615.10" y="452.75" width="2.80" height="6.60" fill="#000" />
<polygon points="621.30,453.45 623.60,453.45 625.20,455.15 625.20,456.95 623.60,458.65 621.30,458.65" fill="#000" stroke="none" stroke-width="0" stroke-linejoin="miter" class="aa"/>
<rect x="607.00" y="466.60" width="7.00" height="7.00" fill="#000" />
<rect x="608.00" y="467.60" width="5.00" height="5.00" fill="#fff" />
<rect x="615.10" y="461.90" width="2.80" height="6.60" fill="#000" />
<polygon points="621.30,462.60 623.60,462.60 625.20,464.30 625.20,466.10 623.60,467.80 621.30,467.80" fill="#000" stroke="none" stroke-width="0" stroke-linejoin="miter" class="aa"/>
<rect x="607.00" y="475.90" width="7.00" height="7.00" fill="#000" />
<rect x="608.00" y="476.90" width="5.00" height="5.00" fill="#fff" />
<rect x="615.10" y="471.05" width="2.80" height="6.60" fill="#000" />
<polygon points="621.30,471.75 623.60,471.75 625.20,473.45 625.20,475.25 623.60,476.95 621.30,476.95" fill="#000" stroke="none" stroke-width="0" stroke-linejoin="miter" class="aa"/>
<rect x="607.00" y="485.20" width="7.00" height="7.00" fill="#000" />
<rect x="608.00" y="486.20" width="5.00" height="5.00" fill="#fff" />
<rect x="615.10" y="480.20" width="2.80" height="6.60" fill="#000" />
<polygon points="621.30,480.90 623.60,480.90 625.20,482.60 625.20,484.40 623.60,486.10 621.30,486.10" fill="#000" stroke="none" stroke-width="0" stroke-linejoin="miter" class="aa"/>
<rect x="607.00" y="494.50" width="7.00" height="7.00" fill="#000" />
<rect x="608.00" y="495.50" width="5.00" height="5.00" fill="#fff" />
<rect x="615.10" y="489.35" width="2.80" height="6.60" fill="#000" />
<polygon points="621.30,490.05 623.60,490.05 625.20,491.75 625.20,493.55 623.60,495.25 621.30,495.25" fill="#000" stroke="none" stroke-width="0" stroke-linejoin="miter" class="aa"/>
<rect x="607.00" y="503.80" width="7.00" height="7.00" fill="#000" />
<rect x="608.00" y="504.80" width="5.00" height="5.00" fill="#fff" />
<rect x="615.10" y="498.50" width="2.80" height="6.60" fill="#000" />
<polygon points="621.30,499.20 623.60,499.20 625.20,500.90 625.20,502.70 623.60,504.40 621.30,504.40" fill="#000" stroke="none" stroke-width="0" stroke-linejoin="miter" class="aa"/>
<rect x="615.10" y="507.50" width="2.80" height="6.50" fill="#000" />
<rect x="621.30" y="508.50" width="3.20" height="4.50" fill="#000" />
<rect x="646.00" y="418.00" width="30.00" height="37.00" fill="#000" />
<rect x="670.50" y="412.00" width="5.50" height="50.00" fill="#000" />
<rect x="668.00" y="415.00" width="3.00" height="43.50" fill="#000" />
<rect x="643.30" y="425.50" width="2.70" height="22.50" fill="#000" />
<rect x="639.00" y="426.50" width="5.30" height="9.50" fill="#000" />
<rect x="640.00" y="427.50" width="3.30" height="7.50" fill="#fff" />
<rect x="639.00" y="437.50" width="5.30" height="9.50" fill="#000" />
<rect x="640.00" y="438.50" width="3.30" height="7.50" fill="#fff" />
<polygon points="85.50,29.80 99.07,35.64 99.53,34.76 87.10,26.80" fill="#000" stroke="none" class="aa"/>
<polygon points="86.11,28.65 90.85,30.71 86.49,27.95" fill="#fff" stroke="none" class="aa"/>
<rect x="47.00" y="12.00" width="41.00" height="19.00" rx="3.0" fill="#000" class="aa"/>
<rect x="49.00" y="14.00" width="37.00" height="15.00" rx="1.3" fill="#fff" class="aa"/>
<text transform="translate(67.86,24.70) scale(0.77,1)" font-size="13.5" letter-spacing="2.5" text-anchor="middle" fill="#000" stroke="#000" stroke-width="0.15">JP24</text>
<polygon points="67.93,53.40 70.21,50.79 85.20,48.90 70.19,47.19 67.87,44.60" fill="#fff" stroke="#000" stroke-width="2.1" stroke-linejoin="miter" class="aa"/>
<rect x="44.00" y="40.00" width="25.00" height="18.00" rx="3.0" fill="#000" class="aa"/>
<rect x="46.00" y="42.00" width="21.00" height="14.00" rx="1.3" fill="#fff" class="aa"/>
<text transform="translate(56.86,53.20) scale(0.77,1)" font-size="13.5" letter-spacing="2.5" text-anchor="middle" fill="#000" stroke="#000" stroke-width="0.15">J1</text>
<line x1="67.92" y1="52.10" x2="67.88" y2="45.90" stroke="#fff" stroke-width="2.6" class="aa"/>
<polygon points="69.37,82.00 71.69,79.41 85.20,77.70 71.71,75.81 69.43,73.20" fill="#fff" stroke="#000" stroke-width="2.1" stroke-linejoin="miter" class="aa"/>
<rect x="45.00" y="69.00" width="26.00" height="19.00" rx="3.0" fill="#000" class="aa"/>
<rect x="47.00" y="71.00" width="22.00" height="15.00" rx="1.3" fill="#fff" class="aa"/>
<text transform="translate(58.36,82.70) scale(0.77,1)" font-size="13.5" letter-spacing="2.5" text-anchor="middle" fill="#000" stroke="#000" stroke-width="0.15">J2</text>
<line x1="69.38" y1="80.70" x2="69.42" y2="74.50" stroke="#fff" stroke-width="2.6" class="aa"/>
<polygon points="148.70,48.40 151.00,45.80 157.00,44.00 151.00,42.20 148.70,39.60" fill="#fff" stroke="#000" stroke-width="2.1" stroke-linejoin="miter" class="aa"/>
<rect x="108.00" y="35.00" width="42.00" height="18.00" rx="3.0" fill="#000" class="aa"/>
<rect x="110.00" y="37.00" width="38.00" height="14.00" rx="1.3" fill="#fff" class="aa"/>
<text transform="translate(129.36,48.20) scale(0.77,1)" font-size="13.5" letter-spacing="2.5" text-anchor="middle" fill="#000" stroke="#000" stroke-width="0.15">JP12</text>
<line x1="148.70" y1="47.10" x2="148.70" y2="40.90" stroke="#fff" stroke-width="2.6" class="aa"/>
<polygon points="185.75,39.20 183.48,41.83 169.20,43.80 183.52,45.43 185.85,48.00" fill="#fff" stroke="#000" stroke-width="2.1" stroke-linejoin="miter" class="aa"/>
<rect x="184.00" y="34.00" width="42.00" height="18.00" rx="3.0" fill="#000" class="aa"/>
<rect x="186.00" y="36.00" width="38.00" height="14.00" rx="1.3" fill="#fff" class="aa"/>
<text transform="translate(205.36,47.20) scale(0.77,1)" font-size="13.5" letter-spacing="2.5" text-anchor="middle" fill="#000" stroke="#000" stroke-width="0.15">JP13</text>
<line x1="185.76" y1="40.50" x2="185.84" y2="46.70" stroke="#fff" stroke-width="2.6" class="aa"/>
<polygon points="109.00,71.60 111.60,73.90 113.40,81.00 115.20,73.90 117.80,71.60" fill="#fff" stroke="#000" stroke-width="2.1" stroke-linejoin="miter" class="aa"/>
<rect x="97.00" y="55.00" width="33.00" height="18.00" rx="3.0" fill="#000" class="aa"/>
<rect x="99.00" y="57.00" width="29.00" height="14.00" rx="1.3" fill="#fff" class="aa"/>
<text transform="translate(113.86,68.20) scale(0.77,1)" font-size="13.5" letter-spacing="2.5" text-anchor="middle" fill="#000" stroke="#000" stroke-width="0.15">JP1</text>
<line x1="110.30" y1="71.60" x2="116.50" y2="71.60" stroke="#fff" stroke-width="2.6" class="aa"/>
<polygon points="159.68,98.59 162.11,96.11 172.00,94.80 162.29,92.52 160.12,89.81" fill="#fff" stroke="#000" stroke-width="2.1" stroke-linejoin="miter" class="aa"/>
<rect x="125.00" y="85.00" width="36.00" height="17.00" rx="3.0" fill="#000" class="aa"/>
<rect x="127.00" y="87.00" width="32.00" height="13.00" rx="1.3" fill="#fff" class="aa"/>
<text transform="translate(143.36,97.70) scale(0.77,1)" font-size="13.5" letter-spacing="2.5" text-anchor="middle" fill="#000" stroke="#000" stroke-width="0.15">JP4</text>
<line x1="159.75" y1="97.30" x2="160.05" y2="91.10" stroke="#fff" stroke-width="2.6" class="aa"/>
<rect x="99.00" y="113.00" width="33.00" height="18.00" rx="3.0" fill="#000" class="aa"/>
<rect x="101.00" y="115.00" width="29.00" height="14.00" rx="1.3" fill="#fff" class="aa"/>
<text transform="translate(115.86,126.20) scale(0.77,1)" font-size="13.5" letter-spacing="2.5" text-anchor="middle" fill="#000" stroke="#000" stroke-width="0.15">JP2</text>
<polygon points="203.67,86.90 206.05,84.37 221.00,83.00 206.15,80.77 203.93,78.10" fill="#fff" stroke="#000" stroke-width="2.1" stroke-linejoin="miter" class="aa"/>
<rect x="165.00" y="75.00" width="40.00" height="16.00" rx="3.0" fill="#000" class="aa"/>
<rect x="167.00" y="77.00" width="36.00" height="12.00" rx="1.3" fill="#fff" class="aa"/>
<text transform="translate(185.36,87.20) scale(0.77,1)" font-size="13.5" letter-spacing="2.5" text-anchor="middle" fill="#000" stroke="#000" stroke-width="0.15">JP18</text>
<line x1="203.71" y1="85.60" x2="203.89" y2="79.40" stroke="#fff" stroke-width="2.6" class="aa"/>
<polygon points="269.90,78.90 267.60,81.50 253.00,83.30 267.60,85.10 269.90,87.70" fill="#fff" stroke="#000" stroke-width="2.1" stroke-linejoin="miter" class="aa"/>
<rect x="268.00" y="74.00" width="42.00" height="18.00" rx="3.0" fill="#000" class="aa"/>
<rect x="270.00" y="76.00" width="38.00" height="14.00" rx="1.3" fill="#fff" class="aa"/>
<text transform="translate(289.36,87.20) scale(0.77,1)" font-size="13.5" letter-spacing="2.5" text-anchor="middle" fill="#000" stroke="#000" stroke-width="0.15">JP19</text>
<line x1="269.90" y1="80.20" x2="269.90" y2="86.40" stroke="#fff" stroke-width="2.6" class="aa"/>
<polygon points="218.23,101.18 204.67,93.78 204.13,94.62 216.37,104.02" fill="#000" stroke="none" class="aa"/>
<polygon points="217.52,102.26 212.78,99.66 217.08,102.94" fill="#fff" stroke="none" class="aa"/>
<rect x="215.00" y="101.00" width="42.00" height="18.00" rx="3.0" fill="#000" class="aa"/>
<rect x="217.00" y="103.00" width="38.00" height="14.00" rx="1.3" fill="#fff" class="aa"/>
<text transform="translate(236.36,114.20) scale(0.77,1)" font-size="13.5" letter-spacing="2.5" text-anchor="middle" fill="#000" stroke="#000" stroke-width="0.15">JP14</text>
<polygon points="302.35,40.40 300.08,43.03 286.20,45.00 300.12,46.63 302.45,49.20" fill="#fff" stroke="#000" stroke-width="2.1" stroke-linejoin="miter" class="aa"/>
<rect x="301.00" y="36.00" width="42.00" height="17.00" rx="3.0" fill="#000" class="aa"/>
<rect x="303.00" y="38.00" width="38.00" height="13.00" rx="1.3" fill="#fff" class="aa"/>
<text transform="translate(322.36,48.70) scale(0.77,1)" font-size="13.5" letter-spacing="2.5" text-anchor="middle" fill="#000" stroke="#000" stroke-width="0.15">JP20</text>
<line x1="302.36" y1="41.70" x2="302.44" y2="47.90" stroke="#fff" stroke-width="2.6" class="aa"/>
<polygon points="323.54,166.90 321.28,169.53 308.20,171.50 321.32,173.13 323.66,175.70" fill="#fff" stroke="#000" stroke-width="2.1" stroke-linejoin="miter" class="aa"/>
<rect x="322.00" y="162.00" width="42.00" height="19.00" rx="3.0" fill="#000" class="aa"/>
<rect x="324.00" y="164.00" width="38.00" height="15.00" rx="1.3" fill="#fff" class="aa"/>
<text transform="translate(343.36,175.70) scale(0.77,1)" font-size="13.5" letter-spacing="2.5" text-anchor="middle" fill="#000" stroke="#000" stroke-width="0.15">JP30</text>
<line x1="323.56" y1="168.20" x2="323.64" y2="174.40" stroke="#fff" stroke-width="2.6" class="aa"/>
<polygon points="67.52,220.90 69.87,218.34 85.00,216.80 69.93,214.74 67.68,212.10" fill="#fff" stroke="#000" stroke-width="2.1" stroke-linejoin="miter" class="aa"/>
<rect x="43.00" y="208.00" width="26.00" height="18.00" rx="3.0" fill="#000" class="aa"/>
<rect x="45.00" y="210.00" width="22.00" height="14.00" rx="1.3" fill="#fff" class="aa"/>
<text transform="translate(56.36,221.20) scale(0.77,1)" font-size="13.5" letter-spacing="2.5" text-anchor="middle" fill="#000" stroke="#000" stroke-width="0.15">J3</text>
<line x1="67.55" y1="219.60" x2="67.65" y2="213.40" stroke="#fff" stroke-width="2.6" class="aa"/>
<polygon points="67.73,241.90 69.95,239.23 85.00,237.00 69.85,235.63 67.47,233.10" fill="#fff" stroke="#000" stroke-width="2.1" stroke-linejoin="miter" class="aa"/>
<rect x="43.00" y="229.00" width="26.00" height="18.00" rx="3.0" fill="#000" class="aa"/>
<rect x="45.00" y="231.00" width="22.00" height="14.00" rx="1.3" fill="#fff" class="aa"/>
<text transform="translate(56.36,242.20) scale(0.77,1)" font-size="13.5" letter-spacing="2.5" text-anchor="middle" fill="#000" stroke="#000" stroke-width="0.15">J4</text>
<line x1="67.69" y1="240.60" x2="67.51" y2="234.40" stroke="#fff" stroke-width="2.6" class="aa"/>
<polygon points="91.90,280.89 89.40,278.48 88.30,262.00 85.80,278.33 83.10,280.51" fill="#fff" stroke="#000" stroke-width="2.1" stroke-linejoin="miter" class="aa"/>
<rect x="74.00" y="279.00" width="26.00" height="19.00" rx="3.0" fill="#000" class="aa"/>
<rect x="76.00" y="281.00" width="22.00" height="15.00" rx="1.3" fill="#fff" class="aa"/>
<text transform="translate(87.36,292.70) scale(0.77,1)" font-size="13.5" letter-spacing="2.5" text-anchor="middle" fill="#000" stroke="#000" stroke-width="0.15">J5</text>
<line x1="90.60" y1="280.83" x2="84.40" y2="280.57" stroke="#fff" stroke-width="2.6" class="aa"/>
<polygon points="72.03,316.20 74.31,313.59 89.50,311.70 74.29,309.99 71.97,307.40" fill="#fff" stroke="#000" stroke-width="2.1" stroke-linejoin="miter" class="aa"/>
<rect x="38.00" y="303.00" width="35.00" height="17.00" rx="3.0" fill="#000" class="aa"/>
<rect x="40.00" y="305.00" width="31.00" height="13.00" rx="1.3" fill="#fff" class="aa"/>
<text transform="translate(55.86,315.70) scale(0.77,1)" font-size="13.5" letter-spacing="2.5" text-anchor="middle" fill="#000" stroke="#000" stroke-width="0.15">JP25</text>
<line x1="72.02" y1="314.90" x2="71.98" y2="308.70" stroke="#fff" stroke-width="2.6" class="aa"/>
<polygon points="91.85,333.30 100.95,322.76 100.25,322.04 89.35,330.70" fill="#000" stroke="none" class="aa"/>
<polygon points="90.95,332.36 94.10,328.64 90.25,331.64" fill="#fff" stroke="none" class="aa"/>
<rect x="51.00" y="330.00" width="42.00" height="18.00" rx="3.0" fill="#000" class="aa"/>
<rect x="53.00" y="332.00" width="38.00" height="14.00" rx="1.3" fill="#fff" class="aa"/>
<text transform="translate(72.36,343.20) scale(0.77,1)" font-size="13.5" letter-spacing="2.5" text-anchor="middle" fill="#000" stroke="#000" stroke-width="0.15">JP27</text>
<polygon points="120.30,340.40 118.00,343.00 104.00,344.80 118.00,346.60 120.30,349.20" fill="#fff" stroke="#000" stroke-width="2.1" stroke-linejoin="miter" class="aa"/>
<rect x="119.00" y="336.00" width="42.00" height="17.00" rx="3.0" fill="#000" class="aa"/>
<rect x="121.00" y="338.00" width="38.00" height="13.00" rx="1.3" fill="#fff" class="aa"/>
<text transform="translate(140.36,348.70) scale(0.77,1)" font-size="13.5" letter-spacing="2.5" text-anchor="middle" fill="#000" stroke="#000" stroke-width="0.15">JP22</text>
<line x1="120.30" y1="341.70" x2="120.30" y2="347.90" stroke="#fff" stroke-width="2.6" class="aa"/>
<polygon points="58.80,365.40 61.04,362.74 75.50,360.60 60.96,359.15 58.60,356.60" fill="#fff" stroke="#000" stroke-width="2.1" stroke-linejoin="miter" class="aa"/>
<rect x="19.00" y="353.00" width="41.00" height="17.00" rx="3.0" fill="#000" class="aa"/>
<rect x="21.00" y="355.00" width="37.00" height="13.00" rx="1.3" fill="#fff" class="aa"/>
<text transform="translate(39.86,365.70) scale(0.77,1)" font-size="13.5" letter-spacing="2.5" text-anchor="middle" fill="#000" stroke="#000" stroke-width="0.15">JP31</text>
<line x1="58.77" y1="364.10" x2="58.63" y2="357.90" stroke="#fff" stroke-width="2.6" class="aa"/>
<polygon points="237.45,310.90 235.18,313.53 221.00,315.50 235.22,317.13 237.55,319.70" fill="#fff" stroke="#000" stroke-width="2.1" stroke-linejoin="miter" class="aa"/>
<rect x="236.00" y="306.00" width="42.00" height="19.00" rx="3.0" fill="#000" class="aa"/>
<rect x="238.00" y="308.00" width="38.00" height="15.00" rx="1.3" fill="#fff" class="aa"/>
<text transform="translate(257.36,319.70) scale(0.77,1)" font-size="13.5" letter-spacing="2.5" text-anchor="middle" fill="#000" stroke="#000" stroke-width="0.15">JP15</text>
<line x1="237.46" y1="312.20" x2="237.54" y2="318.40" stroke="#fff" stroke-width="2.6" class="aa"/>
<polygon points="202.65,343.20 204.92,340.57 220.00,338.60 204.88,336.97 202.55,334.40" fill="#fff" stroke="#000" stroke-width="2.1" stroke-linejoin="miter" class="aa"/>
<rect x="162.00" y="330.00" width="42.00" height="18.00" rx="3.0" fill="#000" class="aa"/>
<rect x="164.00" y="332.00" width="38.00" height="14.00" rx="1.3" fill="#fff" class="aa"/>
<text transform="translate(183.36,343.20) scale(0.77,1)" font-size="13.5" letter-spacing="2.5" text-anchor="middle" fill="#000" stroke="#000" stroke-width="0.15">JP16</text>
<line x1="202.64" y1="341.90" x2="202.56" y2="335.70" stroke="#fff" stroke-width="2.6" class="aa"/>
<polygon points="250.60,334.10 248.30,336.70 233.30,338.50 248.30,340.30 250.60,342.90" fill="#fff" stroke="#000" stroke-width="2.1" stroke-linejoin="miter" class="aa"/>
<rect x="249.00" y="330.00" width="42.00" height="18.00" rx="3.0" fill="#000" class="aa"/>
<rect x="251.00" y="332.00" width="38.00" height="14.00" rx="1.3" fill="#fff" class="aa"/>
<text transform="translate(270.36,343.20) scale(0.77,1)" font-size="13.5" letter-spacing="2.5" text-anchor="middle" fill="#000" stroke="#000" stroke-width="0.15">JP17</text>
<line x1="250.60" y1="335.40" x2="250.60" y2="341.60" stroke="#fff" stroke-width="2.6" class="aa"/>
<polygon points="649.10,233.50 651.70,235.80 653.50,252.30 655.30,235.80 657.90,233.50" fill="#fff" stroke="#000" stroke-width="2.1" stroke-linejoin="miter" class="aa"/>
<rect x="631.00" y="216.00" width="44.00" height="19.00" rx="3.0" fill="#000" class="aa"/>
<rect x="633.00" y="218.00" width="40.00" height="15.00" rx="1.3" fill="#fff" class="aa"/>
<text transform="translate(653.36,229.70) scale(0.77,1)" font-size="13.5" letter-spacing="2.5" text-anchor="middle" fill="#000" stroke="#000" stroke-width="0.15">JP26</text>
<line x1="650.40" y1="233.50" x2="656.60" y2="233.50" stroke="#fff" stroke-width="2.6" class="aa"/>
<polygon points="657.90,283.20 655.30,280.90 653.50,264.00 651.70,280.90 649.10,283.20" fill="#fff" stroke="#000" stroke-width="2.1" stroke-linejoin="miter" class="aa"/>
<rect x="640.00" y="282.00" width="26.00" height="19.00" rx="3.0" fill="#000" class="aa"/>
<rect x="642.00" y="284.00" width="22.00" height="15.00" rx="1.3" fill="#fff" class="aa"/>
<text transform="translate(653.36,295.70) scale(0.77,1)" font-size="13.5" letter-spacing="2.5" text-anchor="middle" fill="#000" stroke="#000" stroke-width="0.15">J6</text>
<line x1="656.60" y1="283.20" x2="650.40" y2="283.20" stroke="#fff" stroke-width="2.6" class="aa"/>
<polygon points="660.90,328.35 658.28,326.08 656.30,309.30 654.68,326.12 652.10,328.45" fill="#fff" stroke="#000" stroke-width="2.1" stroke-linejoin="miter" class="aa"/>
<rect x="635.00" y="327.00" width="43.00" height="19.00" rx="3.0" fill="#000" class="aa"/>
<rect x="637.00" y="329.00" width="39.00" height="15.00" rx="1.3" fill="#fff" class="aa"/>
<text transform="translate(656.86,340.70) scale(0.77,1)" font-size="13.5" letter-spacing="2.5" text-anchor="middle" fill="#000" stroke="#000" stroke-width="0.15">JP21</text>
<line x1="659.60" y1="328.37" x2="653.40" y2="328.43" stroke="#fff" stroke-width="2.6" class="aa"/>
<polygon points="86.30,396.43 88.81,398.83 90.00,414.20 92.41,398.97 95.10,396.77" fill="#fff" stroke="#000" stroke-width="2.1" stroke-linejoin="miter" class="aa"/>
<rect x="75.00" y="380.00" width="33.00" height="18.00" rx="3.0" fill="#000" class="aa"/>
<rect x="77.00" y="382.00" width="29.00" height="14.00" rx="1.3" fill="#fff" class="aa"/>
<text transform="translate(91.86,393.20) scale(0.77,1)" font-size="13.5" letter-spacing="2.5" text-anchor="middle" fill="#000" stroke="#000" stroke-width="0.15">JP9</text>
<line x1="87.60" y1="396.48" x2="93.80" y2="396.72" stroke="#fff" stroke-width="2.6" class="aa"/>
<polygon points="117.29,388.51 102.18,413.93 103.02,414.47 120.31,390.49" fill="#000" stroke="none" class="aa"/>
<polygon points="118.38,389.23 113.13,398.14 119.22,389.77" fill="#fff" stroke="none" class="aa"/>
<rect x="117.00" y="373.00" width="41.00" height="19.00" rx="3.0" fill="#000" class="aa"/>
<rect x="119.00" y="375.00" width="37.00" height="15.00" rx="1.3" fill="#fff" class="aa"/>
<text transform="translate(137.86,386.70) scale(0.77,1)" font-size="13.5" letter-spacing="2.5" text-anchor="middle" fill="#000" stroke="#000" stroke-width="0.15">JP11</text>
<polygon points="121.76,407.20 112.16,418.14 112.84,418.86 124.24,409.80" fill="#000" stroke="none" class="aa"/>
<polygon points="122.66,408.14 119.33,412.00 123.34,408.86" fill="#fff" stroke="none" class="aa"/>
<rect x="121.00" y="393.00" width="40.00" height="17.00" rx="3.0" fill="#000" class="aa"/>
<rect x="123.00" y="395.00" width="36.00" height="13.00" rx="1.3" fill="#fff" class="aa"/>
<text transform="translate(141.36,405.70) scale(0.77,1)" font-size="13.5" letter-spacing="2.5" text-anchor="middle" fill="#000" stroke="#000" stroke-width="0.15">JP28</text>
<polygon points="68.23,411.57 78.05,419.55 78.75,418.85 70.77,409.03" fill="#000" stroke="none" class="aa"/>
<polygon points="69.15,410.65 72.62,413.42 69.85,409.95" fill="#fff" stroke="none" class="aa"/>
<rect x="38.00" y="394.00" width="33.00" height="18.00" rx="3.0" fill="#000" class="aa"/>
<rect x="40.00" y="396.00" width="29.00" height="14.00" rx="1.3" fill="#fff" class="aa"/>
<text transform="translate(54.86,407.20) scale(0.77,1)" font-size="13.5" letter-spacing="2.5" text-anchor="middle" fill="#000" stroke="#000" stroke-width="0.15">JP7</text>
<polygon points="47.38,428.70 49.63,426.06 64.20,424.00 49.57,422.46 47.22,419.90" fill="#fff" stroke="#000" stroke-width="2.1" stroke-linejoin="miter" class="aa"/>
<rect x="7.00" y="416.00" width="42.00" height="17.00" rx="3.0" fill="#000" class="aa"/>
<rect x="9.00" y="418.00" width="38.00" height="13.00" rx="1.3" fill="#fff" class="aa"/>
<text transform="translate(29.56,428.70) scale(0.77,1)" font-size="13.5" letter-spacing="2.5" text-anchor="middle" fill="#000" stroke="#000" stroke-width="0.15">JP23</text>
<line x1="47.36" y1="427.40" x2="47.24" y2="421.20" stroke="#fff" stroke-width="2.6" class="aa"/>
<polygon points="65.26,443.79 73.55,433.86 72.85,433.14 62.74,441.21" fill="#000" stroke="none" class="aa"/>
<polygon points="64.35,442.86 67.22,439.35 63.65,442.14" fill="#fff" stroke="none" class="aa"/>
<rect x="32.00" y="440.00" width="34.00" height="19.00" rx="3.0" fill="#000" class="aa"/>
<rect x="34.00" y="442.00" width="30.00" height="15.00" rx="1.3" fill="#fff" class="aa"/>
<text transform="translate(49.36,453.70) scale(0.77,1)" font-size="13.5" letter-spacing="2.5" text-anchor="middle" fill="#000" stroke="#000" stroke-width="0.15">JP6</text>
<polygon points="88.60,451.63 85.96,449.37 83.90,432.80 82.36,449.43 79.80,451.77" fill="#fff" stroke="#000" stroke-width="2.1" stroke-linejoin="miter" class="aa"/>
<rect x="68.00" y="450.00" width="33.00" height="18.00" rx="3.0" fill="#000" class="aa"/>
<rect x="70.00" y="452.00" width="29.00" height="14.00" rx="1.3" fill="#fff" class="aa"/>
<text transform="translate(84.86,463.20) scale(0.77,1)" font-size="13.5" letter-spacing="2.5" text-anchor="middle" fill="#000" stroke="#000" stroke-width="0.15">JP8</text>
<line x1="87.30" y1="451.65" x2="81.10" y2="451.75" stroke="#fff" stroke-width="2.6" class="aa"/>
<polygon points="118.13,441.99 108.07,432.86 107.33,433.54 115.47,444.41" fill="#000" stroke="none" class="aa"/>
<polygon points="117.17,442.86 113.61,439.70 116.43,443.54" fill="#fff" stroke="none" class="aa"/>
<rect x="115.00" y="441.00" width="42.00" height="19.00" rx="3.0" fill="#000" class="aa"/>
<rect x="117.00" y="443.00" width="38.00" height="15.00" rx="1.3" fill="#fff" class="aa"/>
<text transform="translate(136.36,454.70) scale(0.77,1)" font-size="13.5" letter-spacing="2.5" text-anchor="middle" fill="#000" stroke="#000" stroke-width="0.15">JP29</text>
<polygon points="110.64,462.07 96.46,433.40 95.54,433.80 107.36,463.53" fill="#000" stroke="none" class="aa"/>
<polygon points="109.46,462.60 104.45,452.58 108.54,463.00" fill="#fff" stroke="none" class="aa"/>
<rect x="107.00" y="461.00" width="41.00" height="17.00" rx="3.0" fill="#000" class="aa"/>
<rect x="109.00" y="463.00" width="37.00" height="13.00" rx="1.3" fill="#fff" class="aa"/>
<text transform="translate(127.86,473.70) scale(0.77,1)" font-size="13.5" letter-spacing="2.5" text-anchor="middle" fill="#000" stroke="#000" stroke-width="0.15">JP10</text>
<rect x="247.90" y="354.00" width="32.70" height="17.50" rx="2.2" fill="#000" class="aa"/>
<rect x="249.90" y="355.90" width="29.20" height="14.00" rx="0.8" fill="#fff" class="aa"/>
<text transform="translate(264.66,367.10) scale(0.77,1)" font-size="13.5" letter-spacing="2.5" text-anchor="middle" fill="#000" stroke="#000" stroke-width="0.15">TAG</text>
<rect x="192.90" y="438.20" width="48.70" height="18.40" rx="3.0" fill="#000" class="aa"/>
<rect x="194.00" y="440.60" width="46.10" height="14.40" rx="1.3" fill="#fff" class="aa"/>
<text transform="translate(217.11,452.00) scale(0.77,1)" font-size="13.5" letter-spacing="2.5" text-anchor="middle" fill="#000" stroke="#000" stroke-width="0.15">CACHE</text>
<rect x="84.90" y="34.00" width="7.10" height="30.60" fill="#000" />
<rect x="86.20" y="36.40" width="4.70" height="3.20" fill="#fff" />
<rect x="87.50" y="37.40" width="2.10" height="1.20" fill="#000" />
<rect x="86.20" y="40.00" width="4.70" height="1.00" fill="#fff" />
<rect x="86.20" y="45.80" width="4.70" height="1.00" fill="#fff" />
<rect x="86.20" y="51.70" width="4.70" height="1.00" fill="#fff" />
<rect x="86.20" y="57.20" width="4.70" height="1.80" fill="#fff" />
<rect x="86.20" y="62.80" width="4.70" height="1.00" fill="#fff" />
<rect x="84.90" y="67.00" width="7.10" height="24.10" fill="#000" />
<rect x="86.60" y="68.70" width="3.60" height="3.30" fill="#fff" />
<rect x="87.70" y="69.70" width="1.40" height="1.30" fill="#000" />
<rect x="87.70" y="72.70" width="3.30" height="1.00" fill="#fff" />
<rect x="87.70" y="76.90" width="3.30" height="1.00" fill="#fff" />
<rect x="87.70" y="81.40" width="3.30" height="1.00" fill="#fff" />
<rect x="87.70" y="85.70" width="3.30" height="1.00" fill="#fff" />
<rect x="87.70" y="89.30" width="3.30" height="1.00" fill="#fff" />
<rect x="90.20" y="73.20" width="0.80" height="17.00" fill="#fff" />
<rect x="99.10" y="34.30" width="6.80" height="18.20" fill="#000" />
<rect x="100.40" y="36.40" width="4.30" height="3.20" fill="#fff" />
<rect x="101.60" y="37.40" width="1.90" height="1.20" fill="#000" />
<rect x="100.40" y="40.10" width="4.30" height="0.90" fill="#fff" />
<rect x="100.40" y="45.80" width="4.30" height="1.00" fill="#fff" />
<rect x="157.00" y="36.90" width="12.00" height="14.10" fill="#000" />
<rect x="158.00" y="38.00" width="4.00" height="1.00" fill="#fff" />
<rect x="163.00" y="38.00" width="5.00" height="1.00" fill="#fff" />
<rect x="158.00" y="43.30" width="4.00" height="1.60" fill="#fff" />
<rect x="163.00" y="43.30" width="5.00" height="1.60" fill="#fff" />
<rect x="158.00" y="49.00" width="4.00" height="1.00" fill="#fff" />
<rect x="163.00" y="49.00" width="5.00" height="1.00" fill="#fff" />
<rect x="163.00" y="38.00" width="0.90" height="12.00" fill="#fff" />
<rect x="107.00" y="80.80" width="12.90" height="6.60" fill="#000" />
<rect x="113.10" y="82.30" width="1.10" height="4.50" fill="#fff" />
<rect x="116.50" y="82.30" width="2.30" height="4.50" fill="#fff" />
<rect x="117.40" y="83.20" width="0.60" height="2.70" fill="#000" />
<rect x="107.00" y="88.80" width="18.00" height="6.60" fill="#000" />
<rect x="112.00" y="89.90" width="1.00" height="3.80" fill="#fff" />
<rect x="115.60" y="89.90" width="1.00" height="3.80" fill="#fff" />
<rect x="118.80" y="89.90" width="1.00" height="3.80" fill="#fff" />
<rect x="108.00" y="93.40" width="11.60" height="1.00" fill="#fff" />
<rect x="120.40" y="89.90" width="3.50" height="4.00" fill="#fff" />
<rect x="121.50" y="91.10" width="1.30" height="1.60" fill="#000" />
<rect x="114.20" y="95.40" width="4.60" height="9.10" fill="#000" />
<rect x="115.40" y="107.90" width="1.00" height="7.10" fill="#fff" />
<rect x="171.90" y="91.80" width="14.00" height="6.20" fill="#000" />
<rect x="172.90" y="92.30" width="12.00" height="0.90" fill="#fff" />
<rect x="172.70" y="92.30" width="1.00" height="4.60" fill="#fff" />
<rect x="178.00" y="92.30" width="1.00" height="4.60" fill="#fff" />
<rect x="183.90" y="92.30" width="1.00" height="4.60" fill="#fff" />
<rect x="188.20" y="91.80" width="13.60" height="6.20" fill="#000" />
<rect x="189.00" y="92.90" width="1.00" height="4.00" fill="#fff" />
<rect x="194.90" y="92.90" width="1.00" height="4.00" fill="#fff" />
<rect x="200.00" y="92.90" width="1.00" height="4.00" fill="#fff" />
<rect x="221.00" y="79.90" width="32.00" height="7.10" fill="#000" />
<rect x="222.40" y="84.90" width="11.70" height="0.90" fill="#fff" />
<rect x="235.30" y="84.90" width="16.20" height="0.90" fill="#fff" />
<rect x="222.40" y="81.30" width="1.00" height="4.50" fill="#fff" />
<rect x="227.50" y="81.30" width="1.00" height="4.50" fill="#fff" />
<rect x="232.90" y="81.30" width="1.00" height="4.50" fill="#fff" />
<rect x="240.00" y="81.30" width="1.00" height="4.50" fill="#fff" />
<rect x="245.40" y="81.30" width="1.00" height="4.50" fill="#fff" />
<rect x="250.50" y="81.30" width="1.00" height="4.50" fill="#fff" />
<rect x="247.90" y="82.10" width="2.00" height="1.80" fill="#fff" />
<rect x="279.30" y="35.80" width="6.70" height="19.00" fill="#000" />
<rect x="280.80" y="37.30" width="3.50" height="3.80" fill="#fff" />
<rect x="281.90" y="38.50" width="1.30" height="1.40" fill="#000" />
<rect x="280.80" y="42.10" width="3.90" height="1.00" fill="#fff" />
<rect x="280.80" y="47.00" width="3.90" height="1.00" fill="#fff" />
<rect x="280.80" y="52.30" width="3.90" height="1.00" fill="#fff" />
<rect x="283.80" y="42.60" width="0.90" height="10.40" fill="#fff" />
<rect x="301.00" y="161.80" width="6.90" height="19.00" fill="#000" />
<rect x="301.80" y="162.50" width="5.00" height="0.90" fill="#fff" />
<rect x="301.80" y="164.40" width="3.70" height="3.20" fill="#fff" />
<rect x="302.90" y="165.40" width="1.40" height="1.20" fill="#000" />
<rect x="301.80" y="168.50" width="5.00" height="1.00" fill="#fff" />
<rect x="301.80" y="174.20" width="5.00" height="1.00" fill="#fff" />
<rect x="306.00" y="162.50" width="0.80" height="16.80" fill="#fff" />
<rect x="84.90" y="210.20" width="7.20" height="13.40" fill="#000" />
<rect x="86.00" y="211.70" width="5.20" height="1.20" fill="#fff" />
<rect x="86.00" y="216.90" width="5.20" height="1.20" fill="#fff" />
<rect x="86.00" y="221.40" width="5.20" height="1.20" fill="#fff" />
<rect x="84.90" y="230.20" width="7.20" height="13.40" fill="#000" />
<rect x="86.00" y="231.70" width="5.20" height="1.20" fill="#fff" />
<rect x="86.00" y="236.90" width="5.20" height="1.20" fill="#fff" />
<rect x="86.00" y="241.40" width="5.20" height="1.20" fill="#fff" />
<rect x="84.90" y="247.70" width="7.20" height="13.90" fill="#000" />
<rect x="86.00" y="249.20" width="5.20" height="1.20" fill="#fff" />
<rect x="86.00" y="254.40" width="5.20" height="1.20" fill="#fff" />
<rect x="86.00" y="259.40" width="5.20" height="1.20" fill="#fff" />
<rect x="90.20" y="302.10" width="6.80" height="6.90" fill="#000" />
<rect x="90.20" y="308.10" width="12.80" height="12.90" fill="#000" />
<rect x="91.30" y="303.10" width="4.60" height="4.20" fill="#fff" />
<rect x="92.60" y="304.30" width="2.00" height="1.80" fill="#000" />
<rect x="91.30" y="309.10" width="4.60" height="1.00" fill="#fff" />
<rect x="97.00" y="309.10" width="5.00" height="1.00" fill="#fff" />
<rect x="91.30" y="313.90" width="4.60" height="1.00" fill="#fff" />
<rect x="97.00" y="313.90" width="5.00" height="1.00" fill="#fff" />
<rect x="96.80" y="339.00" width="7.30" height="12.90" fill="#000" />
<rect x="98.00" y="340.00" width="5.00" height="1.20" fill="#fff" />
<rect x="98.00" y="344.20" width="5.00" height="1.20" fill="#fff" />
<rect x="98.00" y="349.40" width="5.00" height="1.20" fill="#fff" />
<rect x="75.30" y="354.20" width="6.30" height="13.30" fill="#000" />
<rect x="76.40" y="355.10" width="4.20" height="1.20" fill="#fff" />
<rect x="76.40" y="360.00" width="4.20" height="1.20" fill="#fff" />
<rect x="76.40" y="365.00" width="4.20" height="1.20" fill="#fff" />
<rect x="214.10" y="309.10" width="6.90" height="12.70" fill="#000" />
<rect x="218.90" y="309.90" width="1.10" height="10.90" fill="#fff" />
<rect x="214.90" y="314.80" width="4.00" height="1.00" fill="#fff" />
<rect x="214.90" y="320.00" width="5.10" height="0.90" fill="#fff" />
<rect x="220.00" y="328.90" width="12.90" height="19.10" fill="#000" />
<rect x="221.00" y="330.00" width="5.00" height="1.20" fill="#fff" />
<rect x="221.00" y="335.80" width="5.00" height="1.60" fill="#fff" />
<rect x="221.00" y="341.10" width="5.00" height="2.30" fill="#fff" />
<rect x="227.00" y="330.00" width="4.90" height="1.20" fill="#fff" />
<rect x="227.00" y="335.80" width="4.90" height="1.60" fill="#fff" />
<rect x="227.00" y="341.10" width="4.90" height="2.30" fill="#fff" />
<rect x="644.40" y="252.30" width="18.60" height="12.40" fill="#000" />
<rect x="638.20" y="258.00" width="6.80" height="6.70" fill="#000" />
<rect x="645.50" y="253.30" width="1.00" height="9.50" fill="#fff" />
<rect x="649.70" y="253.30" width="1.00" height="9.50" fill="#fff" />
<rect x="655.70" y="253.30" width="1.00" height="9.50" fill="#fff" />
<rect x="657.90" y="254.00" width="3.40" height="2.70" fill="#fff" />
<rect x="657.90" y="259.90" width="3.40" height="2.40" fill="#fff" />
<rect x="639.30" y="259.40" width="4.00" height="4.00" fill="#fff" />
<rect x="640.80" y="259.40" width="2.50" height="2.50" fill="#000" />
<rect x="639.30" y="262.60" width="22.70" height="0.90" fill="#fff" />
<rect x="648.90" y="302.10" width="14.20" height="6.90" fill="#000" />
<rect x="649.90" y="303.00" width="1.30" height="5.00" fill="#fff" />
<rect x="655.80" y="303.00" width="1.50" height="5.00" fill="#fff" />
<rect x="660.90" y="303.00" width="1.30" height="5.00" fill="#fff" />
<rect x="64.00" y="420.00" width="53.10" height="12.80" fill="#000" />
<rect x="64.00" y="414.20" width="6.10" height="6.30" fill="#000" />
<rect x="65.10" y="415.30" width="3.90" height="3.90" fill="#fff" />
<rect x="66.30" y="416.50" width="1.50" height="1.50" fill="#000" />
<rect x="87.50" y="414.20" width="6.10" height="6.30" fill="#000" />
<rect x="88.60" y="415.30" width="3.90" height="3.90" fill="#fff" />
<rect x="89.80" y="416.50" width="1.50" height="1.50" fill="#000" />
<rect x="93.40" y="414.20" width="6.10" height="6.30" fill="#000" />
<rect x="94.50" y="415.30" width="3.90" height="3.90" fill="#fff" />
<rect x="95.70" y="416.50" width="1.50" height="1.50" fill="#000" />
<rect x="99.30" y="414.20" width="6.10" height="6.30" fill="#000" />
<rect x="100.40" y="415.30" width="3.90" height="3.90" fill="#fff" />
<rect x="101.60" y="416.50" width="1.50" height="1.50" fill="#000" />
<rect x="105.20" y="414.20" width="6.10" height="6.30" fill="#000" />
<rect x="106.30" y="415.30" width="3.90" height="3.90" fill="#fff" />
<rect x="107.50" y="416.50" width="1.50" height="1.50" fill="#000" />
<rect x="64.90" y="426.00" width="4.40" height="1.40" fill="#fff" />
<rect x="71.40" y="426.00" width="4.10" height="1.40" fill="#fff" />
<rect x="77.50" y="426.00" width="3.60" height="1.40" fill="#fff" />
<rect x="82.10" y="426.00" width="4.60" height="1.40" fill="#fff" />
<rect x="88.30" y="426.00" width="3.50" height="1.40" fill="#fff" />
<rect x="94.40" y="426.00" width="3.60" height="1.40" fill="#fff" />
<rect x="100.50" y="426.00" width="3.60" height="1.40" fill="#fff" />
<rect x="106.20" y="426.00" width="4.60" height="1.40" fill="#fff" />
<rect x="112.30" y="426.00" width="3.60" height="1.40" fill="#fff" />
<rect x="64.90" y="420.60" width="4.40" height="1.20" fill="#fff" />
<rect x="87.80" y="420.60" width="4.00" height="1.20" fill="#fff" />
<rect x="93.90" y="420.60" width="4.10" height="1.20" fill="#fff" />
<rect x="100.00" y="420.60" width="4.10" height="1.20" fill="#fff" />
<rect x="106.20" y="420.60" width="4.60" height="1.20" fill="#fff" />
<rect x="69.90" y="420.30" width="1.00" height="11.50" fill="#fff" />
<rect x="76.00" y="420.30" width="1.00" height="11.50" fill="#fff" />
<rect x="91.90" y="420.30" width="1.00" height="11.50" fill="#fff" />
<rect x="98.00" y="420.30" width="1.00" height="11.50" fill="#fff" />
<rect x="104.30" y="420.30" width="1.00" height="11.50" fill="#fff" />
<rect x="173.9" y="13.7" width="22.1" height="14.2" rx="1.8" fill="#fff" class="aa"/>
<text transform="translate(184.76,25.00) scale(0.77,1)" font-size="13.5" letter-spacing="2.5" text-anchor="middle" fill="#000" stroke="#000" stroke-width="0.15">S1</text>
<rect x="174" y="58" width="22.6" height="13.5" rx="1.8" fill="#fff" class="aa"/>
<text transform="translate(185.16,69.20) scale(0.77,1)" font-size="13.5" letter-spacing="2.5" text-anchor="middle" fill="#000" stroke="#000" stroke-width="0.15">S2</text>
<rect x="161.60" y="418.50" width="17.50" height="76.30" rx="3" fill="#000" class="aa"/>
<rect x="163.30" y="420.20" width="14.10" height="72.60" rx="2.5" fill="#fff" class="aa"/>
<text transform="translate(170.35,430.80) scale(0.82,1)" font-size="11.5" letter-spacing="0" text-anchor="middle" fill="#000" stroke="#000" stroke-width="0.15">B</text>
<text transform="translate(170.35,445.95) scale(0.82,1)" font-size="11.5" letter-spacing="0" text-anchor="middle" fill="#000" stroke="#000" stroke-width="0.15">A</text>
<text transform="translate(170.35,461.10) scale(0.82,1)" font-size="11.5" letter-spacing="0" text-anchor="middle" fill="#000" stroke="#000" stroke-width="0.15">N</text>
<text transform="translate(170.35,476.25) scale(0.82,1)" font-size="11.5" letter-spacing="0" text-anchor="middle" fill="#000" stroke="#000" stroke-width="0.15">K</text>
<text transform="translate(170.35,491.40) scale(0.82,1)" font-size="11.5" letter-spacing="0" text-anchor="middle" fill="#000" stroke="#000" stroke-width="0.15">1</text>
<rect x="255.90" y="397.70" width="17.00" height="75.60" rx="3" fill="#000" class="aa"/>
<rect x="257.60" y="398.70" width="13.80" height="73.60" rx="2.5" fill="#fff" class="aa"/>
<text transform="translate(264.50,410.10) scale(0.82,1)" font-size="11.5" letter-spacing="0" text-anchor="middle" fill="#000" stroke="#000" stroke-width="0.15">B</text>
<text transform="translate(264.50,425.20) scale(0.82,1)" font-size="11.5" letter-spacing="0" text-anchor="middle" fill="#000" stroke="#000" stroke-width="0.15">A</text>
<text transform="translate(264.50,440.30) scale(0.82,1)" font-size="11.5" letter-spacing="0" text-anchor="middle" fill="#000" stroke="#000" stroke-width="0.15">N</text>
<text transform="translate(264.50,455.40) scale(0.82,1)" font-size="11.5" letter-spacing="0" text-anchor="middle" fill="#000" stroke="#000" stroke-width="0.15">K</text>
<text transform="translate(264.50,470.50) scale(0.82,1)" font-size="11.5" letter-spacing="0" text-anchor="middle" fill="#000" stroke="#000" stroke-width="0.15">0</text>
<rect x="448.30" y="346.00" width="17.00" height="77.50" rx="3" fill="#000" class="aa"/>
<rect x="450.30" y="349.40" width="12.80" height="71.60" rx="2.5" fill="#fff" class="aa"/>
<text transform="translate(456.70,359.10) scale(0.82,1)" font-size="11.5" letter-spacing="0" text-anchor="middle" fill="#000" stroke="#000" stroke-width="0.15">B</text>
<text transform="translate(456.70,374.10) scale(0.82,1)" font-size="11.5" letter-spacing="0" text-anchor="middle" fill="#000" stroke="#000" stroke-width="0.15">A</text>
<text transform="translate(456.70,389.10) scale(0.82,1)" font-size="11.5" letter-spacing="0" text-anchor="middle" fill="#000" stroke="#000" stroke-width="0.15">N</text>
<text transform="translate(456.70,404.10) scale(0.82,1)" font-size="11.5" letter-spacing="0" text-anchor="middle" fill="#000" stroke="#000" stroke-width="0.15">K</text>
<text transform="translate(456.70,419.10) scale(0.82,1)" font-size="11.5" letter-spacing="0" text-anchor="middle" fill="#000" stroke="#000" stroke-width="0.15">1</text>
<rect x="447.80" y="434.50" width="17.00" height="77.30" rx="3" fill="#000" class="aa"/>
<rect x="449.50" y="437.40" width="13.60" height="71.50" rx="2.5" fill="#fff" class="aa"/>
<text transform="translate(456.30,447.20) scale(0.82,1)" font-size="11.5" letter-spacing="0" text-anchor="middle" fill="#000" stroke="#000" stroke-width="0.15">B</text>
<text transform="translate(456.30,462.00) scale(0.82,1)" font-size="11.5" letter-spacing="0" text-anchor="middle" fill="#000" stroke="#000" stroke-width="0.15">A</text>
<text transform="translate(456.30,476.80) scale(0.82,1)" font-size="11.5" letter-spacing="0" text-anchor="middle" fill="#000" stroke="#000" stroke-width="0.15">N</text>
<text transform="translate(456.30,491.60) scale(0.82,1)" font-size="11.5" letter-spacing="0" text-anchor="middle" fill="#000" stroke="#000" stroke-width="0.15">K</text>
<text transform="translate(456.30,506.40) scale(0.82,1)" font-size="11.5" letter-spacing="0" text-anchor="middle" fill="#000" stroke="#000" stroke-width="0.15">0</text>
<text transform="translate(571.50,48.00) scale(0.77,1)" font-size="13" letter-spacing="1.6" text-anchor="start" fill="#000" stroke="#000" stroke-width="0.15">MH1799</text>
</svg>
</body></html>
